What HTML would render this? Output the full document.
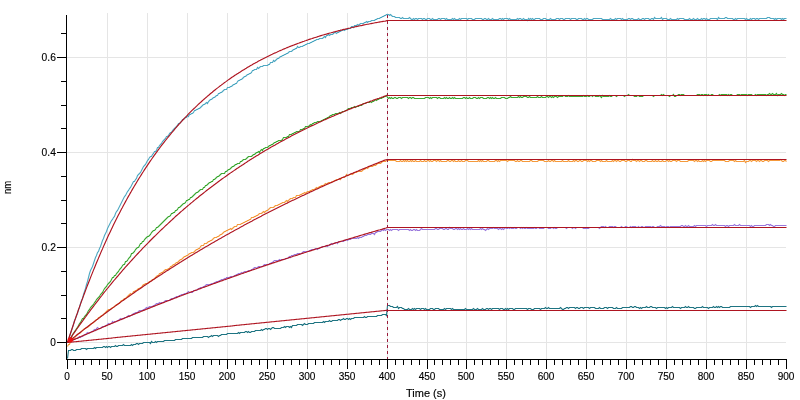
<!DOCTYPE html>
<html><head><meta charset="utf-8"><title>Kinetics</title>
<style>html,body{margin:0;padding:0;background:#fff;}body{width:800px;height:400px;overflow:hidden;}svg{display:block;}</style>
</head><body>
<svg width="800" height="400" viewBox="0 0 800 400">
<g shape-rendering="crispEdges"><rect x="107" y="13" width="1" height="346" fill="#e5e5e5"/><rect x="147" y="13" width="1" height="346" fill="#e5e5e5"/><rect x="187" y="13" width="1" height="346" fill="#e5e5e5"/><rect x="227" y="13" width="1" height="346" fill="#e5e5e5"/><rect x="267" y="13" width="1" height="346" fill="#e5e5e5"/><rect x="307" y="13" width="1" height="346" fill="#e5e5e5"/><rect x="347" y="13" width="1" height="346" fill="#e5e5e5"/><rect x="387" y="13" width="1" height="346" fill="#e5e5e5"/><rect x="427" y="13" width="1" height="346" fill="#e5e5e5"/><rect x="466" y="13" width="1" height="346" fill="#e5e5e5"/><rect x="506" y="13" width="1" height="346" fill="#e5e5e5"/><rect x="546" y="13" width="1" height="346" fill="#e5e5e5"/><rect x="586" y="13" width="1" height="346" fill="#e5e5e5"/><rect x="626" y="13" width="1" height="346" fill="#e5e5e5"/><rect x="666" y="13" width="1" height="346" fill="#e5e5e5"/><rect x="706" y="13" width="1" height="346" fill="#e5e5e5"/><rect x="746" y="13" width="1" height="346" fill="#e5e5e5"/><rect x="67" y="342" width="719" height="1" fill="#e5e5e5"/><rect x="67" y="247" width="719" height="1" fill="#e5e5e5"/><rect x="67" y="152" width="719" height="1" fill="#e5e5e5"/><rect x="67" y="57" width="719" height="1" fill="#e5e5e5"/></g>
<polyline fill="none" stroke="#4ea8c2" stroke-width="1.1"  points="67.5,342.5 68.5,340.5 69.5,336.5 70.5,333.5 71.5,330.5 72.5,327.5 73.5,324.5 74.5,320.5 75.5,318.5 76.5,315.5 77.5,313.5 78.5,309.5 79.5,307.5 80.5,303.5 81.5,300.5 82.5,298.5 83.5,294.5 84.5,291.5 85.5,288.5 86.5,284.5 87.5,281.5 88.5,277.5 89.5,273.5 90.5,270.5 91.5,268.5 92.5,266.5 93.5,263.5 94.5,260.5 95.5,257.5 96.5,255.5 97.5,252.5 98.5,251.5 99.5,248.5 100.5,246.5 101.5,243.5 102.5,240.5 103.5,238.5 104.5,235.5 105.5,233.5 106.5,231.5 107.5,228.5 108.5,226.5 109.5,224.5 110.5,222.5 111.5,220.5 112.5,219.5 113.5,217.5 114.5,216.5 115.5,213.5 116.5,211.5 117.5,210.5 118.5,208.5 119.5,206.5 120.5,204.5 121.5,202.5 122.5,200.5 123.5,198.5 124.5,196.5 125.5,195.5 126.5,193.5 127.5,191.5 128.5,190.5 129.5,188.5 130.5,187.5 131.5,185.5 132.5,183.5 133.5,181.5 134.5,181.5 135.5,179.5 136.5,178.5 137.5,175.5 138.5,174.5 139.5,173.5 140.5,172.5 141.5,170.5 142.5,168.5 143.5,166.5 144.5,165.5 145.5,164.5 146.5,162.5 147.5,160.5 148.5,159.5 149.5,157.5 150.5,156.5 151.5,156.5 152.5,154.5 153.5,153.5 154.5,151.5 155.5,151.5 156.5,150.5 157.5,147.5 158.5,147.5 159.5,145.5 160.5,144.5 161.5,143.5 162.5,141.5 163.5,140.5 164.5,139.5 165.5,138.5 166.5,136.5 167.5,136.5 168.5,135.5 169.5,133.5 170.5,132.5 171.5,132.5 172.5,130.5 173.5,129.5 174.5,128.5 175.5,127.5 176.5,126.5 177.5,125.5 178.5,123.5 179.5,123.5 180.5,122.5 181.5,121.5 182.5,119.5 183.5,119.5 184.5,118.5 185.5,117.5 186.5,117.5 187.5,115.5 188.5,116.5 189.5,114.5 190.5,114.5 191.5,113.5 192.5,113.5 193.5,112.5 194.5,110.5 195.5,110.5 196.5,109.5 197.5,109.5 198.5,108.5 199.5,108.5 200.5,107.5 201.5,106.5 202.5,105.5 203.5,104.5 204.5,104.5 205.5,103.5 206.5,102.5 207.5,103.5 208.5,101.5 209.5,100.5 210.5,99.5 211.5,99.5 212.5,98.5 213.5,97.5 214.5,97.5 215.5,96.5 216.5,95.5 217.5,95.5 218.5,93.5 219.5,93.5 220.5,92.5 221.5,92.5 222.5,91.5 223.5,90.5 224.5,89.5 225.5,89.5 226.5,89.5 227.5,87.5 228.5,87.5 229.5,87.5 230.5,86.5 231.5,86.5 232.5,85.5 233.5,84.5 234.5,84.5 235.5,83.5 236.5,83.5 237.5,81.5 238.5,80.5 239.5,80.5 240.5,79.5 241.5,79.5 242.5,78.5 243.5,77.5 244.5,76.5 245.5,76.5 246.5,75.5 247.5,74.5 248.5,74.5 249.5,73.5 250.5,73.5 251.5,72.5 252.5,70.5 253.5,70.5 254.5,69.5 255.5,69.5 256.5,69.5 257.5,67.5 258.5,68.5 259.5,67.5 260.5,66.5 261.5,66.5 262.5,66.5 263.5,65.5 264.5,65.5 265.5,65.5 266.5,65.5 267.5,65.5 268.5,64.5 269.5,64.5 270.5,62.5 271.5,62.5 272.5,62.5 273.5,60.5 274.5,61.5 275.5,60.5 276.5,59.5 277.5,58.5 278.5,58.5 279.5,57.5 280.5,56.5 281.5,56.5 282.5,55.5 283.5,55.5 284.5,54.5 285.5,54.5 286.5,53.5 287.5,53.5 288.5,52.5 289.5,51.5 290.5,51.5 291.5,51.5 292.5,50.5 293.5,49.5 294.5,49.5 295.5,48.5 296.5,48.5 297.5,46.5 298.5,47.5 299.5,47.5 300.5,46.5 301.5,46.5 302.5,46.5 303.5,45.5 304.5,45.5 305.5,44.5 306.5,44.5 307.5,43.5 308.5,43.5 309.5,43.5 310.5,42.5 311.5,42.5 312.5,41.5 313.5,41.5 314.5,40.5 315.5,40.5 316.5,39.5 317.5,39.5 318.5,39.5 319.5,38.5 320.5,38.5 321.5,38.5 322.5,38.5 323.5,37.5 324.5,36.5 325.5,37.5 326.5,35.5 327.5,35.5 328.5,34.5 329.5,35.5 330.5,34.5 331.5,34.5 332.5,34.5 333.5,33.5 334.5,32.5 335.5,32.5 336.5,33.5 337.5,32.5 338.5,32.5 339.5,31.5 340.5,31.5 341.5,30.5 342.5,30.5 343.5,29.5 344.5,30.5 345.5,29.5 346.5,29.5 347.5,29.5 348.5,28.5 349.5,28.5 350.5,28.5 351.5,26.5 352.5,26.5 353.5,27.5 354.5,25.5 355.5,25.5 356.5,25.5 357.5,24.5 358.5,25.5 359.5,24.5 360.5,23.5 361.5,23.5 362.5,23.5 363.5,23.5 364.5,22.5 365.5,22.5 366.5,21.5 367.5,22.5 368.5,21.5 369.5,21.5 370.5,21.5 371.5,20.5 372.5,20.5 373.5,20.5 374.5,20.5 375.5,19.5 376.5,19.5 377.5,18.5 378.5,18.5 379.5,18.5 380.5,17.5 381.5,17.5 382.5,16.5 383.5,16.5 384.5,15.5 385.5,15.5 386.5,14.5 387.5,14.5 388.5,14.5 389.5,15.5 390.5,14.5 391.5,15.5 392.5,16.5 393.5,16.5 394.5,16.5 395.5,17.5 396.5,17.5 397.5,17.5 398.5,17.5 399.5,17.5 400.5,18.5 401.5,18.5 402.5,17.5 403.5,18.5 404.5,18.5 405.5,18.5 406.5,18.5 407.5,18.5 408.5,18.5 409.5,17.5 410.5,18.5 411.5,19.5 412.5,19.5 413.5,18.5 414.5,19.5 415.5,18.5 416.5,18.5 417.5,19.5 418.5,18.5 419.5,18.5 420.5,18.5 421.5,18.5 422.5,19.5 423.5,18.5 424.5,18.5 425.5,19.5 426.5,19.5 427.5,18.5 428.5,18.5 429.5,18.5 430.5,19.5 431.5,19.5 432.5,18.5 433.5,19.5 434.5,19.5 435.5,19.5 436.5,19.5 437.5,19.5 438.5,18.5 439.5,18.5 440.5,19.5 441.5,18.5 442.5,18.5 443.5,18.5 444.5,18.5 445.5,19.5 446.5,18.5 447.5,19.5 448.5,19.5 449.5,19.5 450.5,19.5 451.5,19.5 452.5,18.5 453.5,19.5 454.5,18.5 455.5,19.5 456.5,19.5 457.5,19.5 458.5,19.5 459.5,18.5 460.5,19.5 461.5,18.5 462.5,18.5 463.5,18.5 464.5,18.5 465.5,18.5 466.5,18.5 467.5,19.5 468.5,18.5 469.5,18.5 470.5,18.5 471.5,18.5 472.5,19.5 473.5,19.5 474.5,19.5 475.5,18.5 476.5,18.5 477.5,18.5 478.5,18.5 479.5,18.5 480.5,18.5 481.5,18.5 482.5,19.5 483.5,19.5 484.5,18.5 485.5,18.5 486.5,19.5 487.5,19.5 488.5,18.5 489.5,19.5 490.5,19.5 491.5,19.5 492.5,18.5 493.5,19.5 494.5,19.5 495.5,19.5 496.5,19.5 497.5,19.5 498.5,19.5 499.5,18.5 500.5,18.5 501.5,19.5 502.5,18.5 503.5,19.5 504.5,18.5 505.5,18.5 506.5,18.5 507.5,18.5 508.5,19.5 509.5,18.5 510.5,19.5 511.5,19.5 512.5,19.5 513.5,19.5 514.5,19.5 515.5,19.5 516.5,19.5 517.5,18.5 518.5,19.5 519.5,18.5 520.5,18.5 521.5,19.5 522.5,19.5 523.5,18.5 524.5,19.5 525.5,19.5 526.5,19.5 527.5,20.5 528.5,18.5 529.5,19.5 530.5,18.5 531.5,19.5 532.5,18.5 533.5,19.5 534.5,19.5 535.5,18.5 536.5,18.5 537.5,18.5 538.5,18.5 539.5,18.5 540.5,19.5 541.5,19.5 542.5,19.5 543.5,18.5 544.5,18.5 545.5,18.5 546.5,19.5 547.5,19.5 548.5,19.5 549.5,19.5 550.5,18.5 551.5,19.5 552.5,19.5 553.5,19.5 554.5,19.5 555.5,19.5 556.5,18.5 557.5,18.5 558.5,18.5 559.5,19.5 560.5,18.5 561.5,18.5 562.5,18.5 563.5,19.5 564.5,19.5 565.5,18.5 566.5,18.5 567.5,18.5 568.5,18.5 569.5,18.5 570.5,19.5 571.5,18.5 572.5,18.5 573.5,18.5 574.5,18.5 575.5,18.5 576.5,19.5 577.5,19.5 578.5,18.5 579.5,18.5 580.5,18.5 581.5,18.5 582.5,19.5 583.5,19.5 584.5,18.5 585.5,19.5 586.5,18.5 587.5,18.5 588.5,19.5 589.5,19.5 590.5,19.5 591.5,19.5 592.5,19.5 593.5,18.5 594.5,18.5 595.5,18.5 596.5,18.5 597.5,18.5 598.5,18.5 599.5,18.5 600.5,18.5 601.5,18.5 602.5,19.5 603.5,19.5 604.5,19.5 605.5,19.5 606.5,19.5 607.5,19.5 608.5,19.5 609.5,19.5 610.5,18.5 611.5,19.5 612.5,19.5 613.5,19.5 614.5,19.5 615.5,18.5 616.5,19.5 617.5,18.5 618.5,18.5 619.5,18.5 620.5,18.5 621.5,19.5 622.5,18.5 623.5,19.5 624.5,19.5 625.5,19.5 626.5,19.5 627.5,19.5 628.5,18.5 629.5,18.5 630.5,19.5 631.5,18.5 632.5,18.5 633.5,19.5 634.5,19.5 635.5,19.5 636.5,19.5 637.5,19.5 638.5,18.5 639.5,19.5 640.5,19.5 641.5,19.5 642.5,18.5 643.5,18.5 644.5,19.5 645.5,18.5 646.5,18.5 647.5,18.5 648.5,18.5 649.5,19.5 650.5,19.5 651.5,18.5 652.5,18.5 653.5,19.5 654.5,17.5 655.5,18.5 656.5,18.5 657.5,18.5 658.5,18.5 659.5,18.5 660.5,18.5 661.5,17.5 662.5,19.5 663.5,18.5 664.5,18.5 665.5,18.5 666.5,18.5 667.5,19.5 668.5,19.5 669.5,19.5 670.5,18.5 671.5,19.5 672.5,19.5 673.5,19.5 674.5,19.5 675.5,19.5 676.5,19.5 677.5,18.5 678.5,19.5 679.5,18.5 680.5,18.5 681.5,18.5 682.5,18.5 683.5,18.5 684.5,19.5 685.5,19.5 686.5,19.5 687.5,19.5 688.5,19.5 689.5,18.5 690.5,19.5 691.5,19.5 692.5,19.5 693.5,18.5 694.5,19.5 695.5,19.5 696.5,19.5 697.5,18.5 698.5,19.5 699.5,19.5 700.5,19.5 701.5,18.5 702.5,19.5 703.5,18.5 704.5,18.5 705.5,19.5 706.5,18.5 707.5,19.5 708.5,19.5 709.5,19.5 710.5,18.5 711.5,18.5 712.5,18.5 713.5,18.5 714.5,18.5 715.5,18.5 716.5,18.5 717.5,19.5 718.5,17.5 719.5,18.5 720.5,18.5 721.5,18.5 722.5,18.5 723.5,18.5 724.5,18.5 725.5,17.5 726.5,17.5 727.5,18.5 728.5,18.5 729.5,18.5 730.5,18.5 731.5,18.5 732.5,18.5 733.5,19.5 734.5,19.5 735.5,18.5 736.5,19.5 737.5,18.5 738.5,18.5 739.5,18.5 740.5,18.5 741.5,18.5 742.5,18.5 743.5,18.5 744.5,18.5 745.5,19.5 746.5,18.5 747.5,19.5 748.5,19.5 749.5,19.5 750.5,18.5 751.5,19.5 752.5,18.5 753.5,18.5 754.5,18.5 755.5,19.5 756.5,18.5 757.5,18.5 758.5,19.5 759.5,18.5 760.5,18.5 761.5,18.5 762.5,18.5 763.5,18.5 764.5,18.5 765.5,18.5 766.5,18.5 767.5,17.5 768.5,17.5 769.5,17.5 770.5,18.5 771.5,18.5 772.5,18.5 773.5,18.5 774.5,19.5 775.5,18.5 776.5,19.5 777.5,18.5 778.5,18.5 779.5,18.5 780.5,18.5 781.5,19.5 782.5,18.5 783.5,19.5 784.5,18.5 785.5,18.5 786.5,18.5"/>
<polyline fill="none" stroke="#3ca832" stroke-width="1.1"  points="67.5,342.5 68.5,341.5 69.5,339.5 70.5,338.5 71.5,337.5 72.5,334.5 73.5,333.5 74.5,331.5 75.5,330.5 76.5,328.5 77.5,327.5 78.5,325.5 79.5,323.5 80.5,322.5 81.5,320.5 82.5,318.5 83.5,318.5 84.5,316.5 85.5,315.5 86.5,314.5 87.5,312.5 88.5,310.5 89.5,309.5 90.5,307.5 91.5,306.5 92.5,305.5 93.5,304.5 94.5,302.5 95.5,301.5 96.5,299.5 97.5,298.5 98.5,297.5 99.5,296.5 100.5,294.5 101.5,293.5 102.5,292.5 103.5,290.5 104.5,288.5 105.5,287.5 106.5,286.5 107.5,284.5 108.5,283.5 109.5,282.5 110.5,281.5 111.5,279.5 112.5,277.5 113.5,277.5 114.5,275.5 115.5,275.5 116.5,273.5 117.5,272.5 118.5,271.5 119.5,269.5 120.5,268.5 121.5,267.5 122.5,265.5 123.5,264.5 124.5,264.5 125.5,261.5 126.5,261.5 127.5,260.5 128.5,258.5 129.5,257.5 130.5,256.5 131.5,253.5 132.5,253.5 133.5,252.5 134.5,251.5 135.5,249.5 136.5,248.5 137.5,247.5 138.5,247.5 139.5,245.5 140.5,243.5 141.5,243.5 142.5,241.5 143.5,241.5 144.5,239.5 145.5,238.5 146.5,237.5 147.5,236.5 148.5,236.5 149.5,235.5 150.5,234.5 151.5,232.5 152.5,231.5 153.5,230.5 154.5,230.5 155.5,229.5 156.5,227.5 157.5,227.5 158.5,226.5 159.5,225.5 160.5,224.5 161.5,223.5 162.5,222.5 163.5,221.5 164.5,220.5 165.5,219.5 166.5,218.5 167.5,217.5 168.5,216.5 169.5,216.5 170.5,215.5 171.5,213.5 172.5,213.5 173.5,212.5 174.5,212.5 175.5,210.5 176.5,210.5 177.5,209.5 178.5,207.5 179.5,207.5 180.5,206.5 181.5,205.5 182.5,204.5 183.5,203.5 184.5,203.5 185.5,202.5 186.5,200.5 187.5,200.5 188.5,199.5 189.5,199.5 190.5,197.5 191.5,197.5 192.5,196.5 193.5,195.5 194.5,194.5 195.5,193.5 196.5,192.5 197.5,192.5 198.5,191.5 199.5,190.5 200.5,189.5 201.5,189.5 202.5,189.5 203.5,187.5 204.5,187.5 205.5,185.5 206.5,185.5 207.5,184.5 208.5,183.5 209.5,182.5 210.5,182.5 211.5,181.5 212.5,181.5 213.5,179.5 214.5,179.5 215.5,178.5 216.5,177.5 217.5,176.5 218.5,176.5 219.5,175.5 220.5,174.5 221.5,173.5 222.5,173.5 223.5,173.5 224.5,173.5 225.5,171.5 226.5,171.5 227.5,170.5 228.5,169.5 229.5,169.5 230.5,168.5 231.5,167.5 232.5,166.5 233.5,166.5 234.5,165.5 235.5,164.5 236.5,164.5 237.5,163.5 238.5,163.5 239.5,163.5 240.5,161.5 241.5,161.5 242.5,160.5 243.5,159.5 244.5,159.5 245.5,159.5 246.5,158.5 247.5,157.5 248.5,156.5 249.5,156.5 250.5,156.5 251.5,156.5 252.5,155.5 253.5,154.5 254.5,154.5 255.5,153.5 256.5,152.5 257.5,152.5 258.5,151.5 259.5,152.5 260.5,150.5 261.5,149.5 262.5,150.5 263.5,148.5 264.5,148.5 265.5,147.5 266.5,147.5 267.5,147.5 268.5,146.5 269.5,145.5 270.5,145.5 271.5,144.5 272.5,144.5 273.5,143.5 274.5,142.5 275.5,142.5 276.5,141.5 277.5,141.5 278.5,140.5 279.5,140.5 280.5,140.5 281.5,140.5 282.5,139.5 283.5,137.5 284.5,137.5 285.5,137.5 286.5,137.5 287.5,136.5 288.5,136.5 289.5,134.5 290.5,134.5 291.5,134.5 292.5,133.5 293.5,133.5 294.5,132.5 295.5,132.5 296.5,131.5 297.5,131.5 298.5,131.5 299.5,131.5 300.5,129.5 301.5,129.5 302.5,129.5 303.5,128.5 304.5,128.5 305.5,126.5 306.5,126.5 307.5,126.5 308.5,126.5 309.5,125.5 310.5,124.5 311.5,125.5 312.5,123.5 313.5,123.5 314.5,122.5 315.5,122.5 316.5,122.5 317.5,121.5 318.5,121.5 319.5,121.5 320.5,121.5 321.5,120.5 322.5,120.5 323.5,119.5 324.5,119.5 325.5,118.5 326.5,118.5 327.5,117.5 328.5,117.5 329.5,116.5 330.5,115.5 331.5,115.5 332.5,114.5 333.5,114.5 334.5,114.5 335.5,113.5 336.5,113.5 337.5,113.5 338.5,113.5 339.5,112.5 340.5,113.5 341.5,112.5 342.5,111.5 343.5,111.5 344.5,111.5 345.5,110.5 346.5,110.5 347.5,109.5 348.5,108.5 349.5,108.5 350.5,108.5 351.5,107.5 352.5,107.5 353.5,107.5 354.5,106.5 355.5,107.5 356.5,106.5 357.5,106.5 358.5,106.5 359.5,105.5 360.5,105.5 361.5,105.5 362.5,104.5 363.5,103.5 364.5,103.5 365.5,103.5 366.5,102.5 367.5,102.5 368.5,102.5 369.5,102.5 370.5,101.5 371.5,102.5 372.5,101.5 373.5,101.5 374.5,100.5 375.5,99.5 376.5,100.5 377.5,99.5 378.5,99.5 379.5,98.5 380.5,98.5 381.5,98.5 382.5,97.5 383.5,97.5 384.5,96.5 385.5,96.5 386.5,95.5 387.5,97.5 388.5,98.5 389.5,97.5 390.5,98.5 391.5,97.5 392.5,98.5 393.5,98.5 394.5,97.5 395.5,97.5 396.5,98.5 397.5,98.5 398.5,97.5 399.5,97.5 400.5,97.5 401.5,98.5 402.5,97.5 403.5,97.5 404.5,97.5 405.5,97.5 406.5,97.5 407.5,97.5 408.5,98.5 409.5,97.5 410.5,97.5 411.5,98.5 412.5,97.5 413.5,97.5 414.5,98.5 415.5,98.5 416.5,98.5 417.5,98.5 418.5,98.5 419.5,98.5 420.5,98.5 421.5,98.5 422.5,98.5 423.5,98.5 424.5,98.5 425.5,97.5 426.5,97.5 427.5,97.5 428.5,97.5 429.5,98.5 430.5,97.5 431.5,98.5 432.5,97.5 433.5,97.5 434.5,97.5 435.5,97.5 436.5,97.5 437.5,98.5 438.5,97.5 439.5,97.5 440.5,98.5 441.5,98.5 442.5,98.5 443.5,98.5 444.5,97.5 445.5,98.5 446.5,97.5 447.5,98.5 448.5,98.5 449.5,97.5 450.5,98.5 451.5,98.5 452.5,97.5 453.5,98.5 454.5,97.5 455.5,98.5 456.5,98.5 457.5,98.5 458.5,98.5 459.5,98.5 460.5,98.5 461.5,98.5 462.5,98.5 463.5,97.5 464.5,97.5 465.5,98.5 466.5,97.5 467.5,98.5 468.5,98.5 469.5,97.5 470.5,98.5 471.5,98.5 472.5,98.5 473.5,97.5 474.5,97.5 475.5,97.5 476.5,98.5 477.5,98.5 478.5,97.5 479.5,98.5 480.5,97.5 481.5,97.5 482.5,97.5 483.5,98.5 484.5,98.5 485.5,98.5 486.5,98.5 487.5,97.5 488.5,97.5 489.5,98.5 490.5,97.5 491.5,98.5 492.5,97.5 493.5,98.5 494.5,98.5 495.5,97.5 496.5,98.5 497.5,98.5 498.5,98.5 499.5,98.5 500.5,98.5 501.5,97.5 502.5,97.5 503.5,97.5 504.5,97.5 505.5,98.5 506.5,98.5 507.5,98.5 508.5,97.5 509.5,97.5 510.5,96.5 511.5,97.5 512.5,97.5 513.5,97.5 514.5,97.5 515.5,97.5 516.5,97.5 517.5,97.5 518.5,96.5 519.5,97.5 520.5,96.5 521.5,97.5 522.5,97.5 523.5,96.5 524.5,96.5 525.5,96.5 526.5,96.5 527.5,97.5 528.5,97.5 529.5,96.5 530.5,97.5 531.5,97.5 532.5,97.5 533.5,97.5 534.5,97.5 535.5,97.5 536.5,97.5 537.5,96.5 538.5,97.5 539.5,97.5 540.5,97.5 541.5,96.5 542.5,97.5 543.5,97.5 544.5,97.5 545.5,97.5 546.5,96.5 547.5,96.5 548.5,97.5 549.5,96.5 550.5,96.5 551.5,97.5 552.5,96.5 553.5,97.5 554.5,96.5 555.5,96.5 556.5,96.5 557.5,97.5 558.5,96.5 559.5,96.5 560.5,96.5 561.5,96.5 562.5,96.5 563.5,95.5 564.5,95.5 565.5,96.5 566.5,96.5 567.5,96.5 568.5,95.5 569.5,96.5 570.5,96.5 571.5,96.5 572.5,96.5 573.5,96.5 574.5,96.5 575.5,96.5 576.5,96.5 577.5,96.5 578.5,96.5 579.5,96.5 580.5,96.5 581.5,96.5 582.5,96.5 583.5,95.5 584.5,96.5 585.5,96.5 586.5,96.5 587.5,95.5 588.5,96.5 589.5,96.5 590.5,95.5 591.5,95.5 592.5,96.5 593.5,95.5 594.5,95.5 595.5,96.5 596.5,96.5 597.5,96.5 598.5,96.5 599.5,95.5 600.5,96.5 601.5,97.5 602.5,95.5 603.5,96.5 604.5,96.5 605.5,96.5 606.5,96.5 607.5,96.5 608.5,96.5 609.5,95.5 610.5,96.5 611.5,96.5 612.5,95.5 613.5,95.5 614.5,95.5 615.5,95.5 616.5,96.5 617.5,95.5 618.5,95.5 619.5,95.5 620.5,95.5 621.5,95.5 622.5,95.5 623.5,95.5 624.5,96.5 625.5,95.5 626.5,95.5 627.5,95.5 628.5,94.5 629.5,95.5 630.5,95.5 631.5,95.5 632.5,95.5 633.5,95.5 634.5,96.5 635.5,96.5 636.5,96.5 637.5,95.5 638.5,95.5 639.5,96.5 640.5,96.5 641.5,96.5 642.5,96.5 643.5,95.5 644.5,95.5 645.5,95.5 646.5,95.5 647.5,95.5 648.5,95.5 649.5,95.5 650.5,95.5 651.5,95.5 652.5,95.5 653.5,96.5 654.5,95.5 655.5,95.5 656.5,95.5 657.5,95.5 658.5,95.5 659.5,95.5 660.5,95.5 661.5,94.5 662.5,95.5 663.5,94.5 664.5,95.5 665.5,95.5 666.5,95.5 667.5,95.5 668.5,95.5 669.5,96.5 670.5,95.5 671.5,95.5 672.5,95.5 673.5,94.5 674.5,96.5 675.5,96.5 676.5,95.5 677.5,95.5 678.5,94.5 679.5,94.5 680.5,95.5 681.5,94.5 682.5,94.5 683.5,94.5 684.5,95.5 685.5,95.5 686.5,95.5 687.5,95.5 688.5,95.5 689.5,95.5 690.5,95.5 691.5,95.5 692.5,95.5 693.5,95.5 694.5,95.5 695.5,95.5 696.5,95.5 697.5,94.5 698.5,94.5 699.5,94.5 700.5,95.5 701.5,94.5 702.5,94.5 703.5,95.5 704.5,94.5 705.5,94.5 706.5,94.5 707.5,95.5 708.5,94.5 709.5,95.5 710.5,95.5 711.5,94.5 712.5,94.5 713.5,95.5 714.5,95.5 715.5,95.5 716.5,95.5 717.5,95.5 718.5,95.5 719.5,94.5 720.5,95.5 721.5,94.5 722.5,94.5 723.5,94.5 724.5,94.5 725.5,94.5 726.5,94.5 727.5,95.5 728.5,94.5 729.5,95.5 730.5,94.5 731.5,94.5 732.5,95.5 733.5,95.5 734.5,95.5 735.5,95.5 736.5,95.5 737.5,94.5 738.5,94.5 739.5,94.5 740.5,95.5 741.5,94.5 742.5,94.5 743.5,94.5 744.5,94.5 745.5,94.5 746.5,94.5 747.5,95.5 748.5,94.5 749.5,94.5 750.5,94.5 751.5,94.5 752.5,95.5 753.5,95.5 754.5,95.5 755.5,94.5 756.5,95.5 757.5,94.5 758.5,94.5 759.5,94.5 760.5,94.5 761.5,94.5 762.5,94.5 763.5,94.5 764.5,94.5 765.5,94.5 766.5,95.5 767.5,94.5 768.5,94.5 769.5,93.5 770.5,94.5 771.5,94.5 772.5,93.5 773.5,94.5 774.5,94.5 775.5,94.5 776.5,93.5 777.5,95.5 778.5,94.5 779.5,94.5 780.5,94.5 781.5,93.5 782.5,94.5 783.5,94.5 784.5,95.5 785.5,94.5 786.5,94.5"/>
<polyline fill="none" stroke="#f59a3c" stroke-width="1.1"  points="67.5,346.5 68.5,344.5 69.5,344.5 70.5,341.5 71.5,341.5 72.5,339.5 73.5,338.5 74.5,338.5 75.5,336.5 76.5,335.5 77.5,334.5 78.5,333.5 79.5,333.5 80.5,332.5 81.5,331.5 82.5,330.5 83.5,329.5 84.5,328.5 85.5,328.5 86.5,327.5 87.5,327.5 88.5,326.5 89.5,325.5 90.5,324.5 91.5,323.5 92.5,323.5 93.5,322.5 94.5,321.5 95.5,320.5 96.5,319.5 97.5,319.5 98.5,317.5 99.5,317.5 100.5,316.5 101.5,315.5 102.5,315.5 103.5,314.5 104.5,313.5 105.5,312.5 106.5,311.5 107.5,310.5 108.5,309.5 109.5,309.5 110.5,309.5 111.5,308.5 112.5,307.5 113.5,307.5 114.5,306.5 115.5,305.5 116.5,304.5 117.5,304.5 118.5,303.5 119.5,303.5 120.5,301.5 121.5,300.5 122.5,300.5 123.5,299.5 124.5,298.5 125.5,298.5 126.5,297.5 127.5,296.5 128.5,295.5 129.5,294.5 130.5,293.5 131.5,294.5 132.5,293.5 133.5,291.5 134.5,291.5 135.5,290.5 136.5,290.5 137.5,289.5 138.5,288.5 139.5,288.5 140.5,287.5 141.5,287.5 142.5,285.5 143.5,284.5 144.5,284.5 145.5,283.5 146.5,283.5 147.5,283.5 148.5,282.5 149.5,281.5 150.5,281.5 151.5,280.5 152.5,279.5 153.5,279.5 154.5,278.5 155.5,277.5 156.5,276.5 157.5,275.5 158.5,275.5 159.5,273.5 160.5,273.5 161.5,272.5 162.5,272.5 163.5,271.5 164.5,270.5 165.5,269.5 166.5,269.5 167.5,269.5 168.5,268.5 169.5,268.5 170.5,266.5 171.5,266.5 172.5,265.5 173.5,264.5 174.5,264.5 175.5,263.5 176.5,262.5 177.5,262.5 178.5,261.5 179.5,260.5 180.5,259.5 181.5,259.5 182.5,258.5 183.5,257.5 184.5,256.5 185.5,256.5 186.5,255.5 187.5,255.5 188.5,254.5 189.5,253.5 190.5,253.5 191.5,252.5 192.5,252.5 193.5,252.5 194.5,251.5 195.5,250.5 196.5,249.5 197.5,249.5 198.5,248.5 199.5,248.5 200.5,246.5 201.5,245.5 202.5,245.5 203.5,245.5 204.5,243.5 205.5,243.5 206.5,243.5 207.5,242.5 208.5,241.5 209.5,241.5 210.5,240.5 211.5,240.5 212.5,239.5 213.5,238.5 214.5,237.5 215.5,237.5 216.5,237.5 217.5,236.5 218.5,236.5 219.5,235.5 220.5,234.5 221.5,234.5 222.5,233.5 223.5,232.5 224.5,231.5 225.5,231.5 226.5,230.5 227.5,230.5 228.5,229.5 229.5,229.5 230.5,228.5 231.5,229.5 232.5,228.5 233.5,227.5 234.5,226.5 235.5,226.5 236.5,226.5 237.5,224.5 238.5,224.5 239.5,224.5 240.5,224.5 241.5,223.5 242.5,223.5 243.5,222.5 244.5,222.5 245.5,221.5 246.5,221.5 247.5,220.5 248.5,220.5 249.5,219.5 250.5,219.5 251.5,217.5 252.5,217.5 253.5,217.5 254.5,216.5 255.5,216.5 256.5,215.5 257.5,215.5 258.5,214.5 259.5,213.5 260.5,213.5 261.5,213.5 262.5,212.5 263.5,211.5 264.5,212.5 265.5,211.5 266.5,210.5 267.5,210.5 268.5,209.5 269.5,208.5 270.5,207.5 271.5,207.5 272.5,207.5 273.5,207.5 274.5,206.5 275.5,205.5 276.5,205.5 277.5,205.5 278.5,204.5 279.5,204.5 280.5,203.5 281.5,203.5 282.5,202.5 283.5,202.5 284.5,202.5 285.5,201.5 286.5,200.5 287.5,201.5 288.5,200.5 289.5,199.5 290.5,198.5 291.5,198.5 292.5,198.5 293.5,197.5 294.5,197.5 295.5,197.5 296.5,195.5 297.5,195.5 298.5,195.5 299.5,195.5 300.5,194.5 301.5,194.5 302.5,193.5 303.5,193.5 304.5,192.5 305.5,193.5 306.5,192.5 307.5,191.5 308.5,191.5 309.5,191.5 310.5,190.5 311.5,190.5 312.5,189.5 313.5,189.5 314.5,189.5 315.5,188.5 316.5,187.5 317.5,188.5 318.5,187.5 319.5,186.5 320.5,186.5 321.5,185.5 322.5,185.5 323.5,185.5 324.5,184.5 325.5,183.5 326.5,184.5 327.5,183.5 328.5,182.5 329.5,182.5 330.5,182.5 331.5,182.5 332.5,181.5 333.5,181.5 334.5,180.5 335.5,180.5 336.5,179.5 337.5,179.5 338.5,179.5 339.5,178.5 340.5,179.5 341.5,177.5 342.5,177.5 343.5,177.5 344.5,177.5 345.5,176.5 346.5,174.5 347.5,175.5 348.5,175.5 349.5,174.5 350.5,174.5 351.5,173.5 352.5,174.5 353.5,173.5 354.5,172.5 355.5,172.5 356.5,172.5 357.5,171.5 358.5,171.5 359.5,171.5 360.5,171.5 361.5,171.5 362.5,170.5 363.5,169.5 364.5,169.5 365.5,168.5 366.5,167.5 367.5,168.5 368.5,167.5 369.5,166.5 370.5,166.5 371.5,166.5 372.5,166.5 373.5,165.5 374.5,165.5 375.5,165.5 376.5,164.5 377.5,163.5 378.5,163.5 379.5,163.5 380.5,163.5 381.5,162.5 382.5,161.5 383.5,161.5 384.5,161.5 385.5,161.5 386.5,160.5 387.5,160.5 388.5,160.5 389.5,160.5 390.5,160.5 391.5,160.5 392.5,160.5 393.5,160.5 394.5,160.5 395.5,160.5 396.5,161.5 397.5,161.5 398.5,161.5 399.5,161.5 400.5,160.5 401.5,161.5 402.5,161.5 403.5,160.5 404.5,161.5 405.5,160.5 406.5,161.5 407.5,160.5 408.5,161.5 409.5,161.5 410.5,160.5 411.5,161.5 412.5,160.5 413.5,161.5 414.5,161.5 415.5,160.5 416.5,161.5 417.5,161.5 418.5,161.5 419.5,161.5 420.5,160.5 421.5,161.5 422.5,161.5 423.5,161.5 424.5,160.5 425.5,161.5 426.5,161.5 427.5,160.5 428.5,160.5 429.5,161.5 430.5,160.5 431.5,161.5 432.5,161.5 433.5,160.5 434.5,160.5 435.5,160.5 436.5,161.5 437.5,160.5 438.5,160.5 439.5,161.5 440.5,160.5 441.5,161.5 442.5,161.5 443.5,161.5 444.5,161.5 445.5,161.5 446.5,161.5 447.5,160.5 448.5,160.5 449.5,161.5 450.5,161.5 451.5,160.5 452.5,160.5 453.5,161.5 454.5,160.5 455.5,161.5 456.5,161.5 457.5,161.5 458.5,160.5 459.5,161.5 460.5,161.5 461.5,160.5 462.5,161.5 463.5,161.5 464.5,161.5 465.5,160.5 466.5,160.5 467.5,160.5 468.5,161.5 469.5,161.5 470.5,161.5 471.5,161.5 472.5,161.5 473.5,161.5 474.5,161.5 475.5,161.5 476.5,161.5 477.5,161.5 478.5,160.5 479.5,161.5 480.5,160.5 481.5,161.5 482.5,160.5 483.5,161.5 484.5,161.5 485.5,161.5 486.5,161.5 487.5,160.5 488.5,160.5 489.5,161.5 490.5,161.5 491.5,161.5 492.5,161.5 493.5,161.5 494.5,161.5 495.5,160.5 496.5,160.5 497.5,161.5 498.5,160.5 499.5,161.5 500.5,160.5 501.5,160.5 502.5,160.5 503.5,160.5 504.5,160.5 505.5,160.5 506.5,160.5 507.5,161.5 508.5,160.5 509.5,160.5 510.5,160.5 511.5,160.5 512.5,160.5 513.5,160.5 514.5,160.5 515.5,161.5 516.5,161.5 517.5,160.5 518.5,161.5 519.5,161.5 520.5,160.5 521.5,160.5 522.5,161.5 523.5,161.5 524.5,161.5 525.5,161.5 526.5,161.5 527.5,161.5 528.5,161.5 529.5,161.5 530.5,160.5 531.5,160.5 532.5,161.5 533.5,161.5 534.5,161.5 535.5,161.5 536.5,161.5 537.5,161.5 538.5,160.5 539.5,160.5 540.5,160.5 541.5,160.5 542.5,160.5 543.5,160.5 544.5,161.5 545.5,161.5 546.5,161.5 547.5,161.5 548.5,160.5 549.5,161.5 550.5,161.5 551.5,160.5 552.5,160.5 553.5,161.5 554.5,160.5 555.5,161.5 556.5,161.5 557.5,161.5 558.5,161.5 559.5,161.5 560.5,161.5 561.5,161.5 562.5,160.5 563.5,161.5 564.5,161.5 565.5,161.5 566.5,161.5 567.5,161.5 568.5,160.5 569.5,161.5 570.5,161.5 571.5,161.5 572.5,161.5 573.5,160.5 574.5,161.5 575.5,160.5 576.5,160.5 577.5,161.5 578.5,161.5 579.5,160.5 580.5,160.5 581.5,161.5 582.5,161.5 583.5,160.5 584.5,160.5 585.5,160.5 586.5,160.5 587.5,161.5 588.5,160.5 589.5,161.5 590.5,160.5 591.5,160.5 592.5,161.5 593.5,161.5 594.5,161.5 595.5,161.5 596.5,160.5 597.5,160.5 598.5,160.5 599.5,160.5 600.5,161.5 601.5,160.5 602.5,161.5 603.5,161.5 604.5,161.5 605.5,161.5 606.5,160.5 607.5,161.5 608.5,161.5 609.5,161.5 610.5,161.5 611.5,161.5 612.5,160.5 613.5,161.5 614.5,160.5 615.5,160.5 616.5,161.5 617.5,160.5 618.5,160.5 619.5,161.5 620.5,161.5 621.5,160.5 622.5,160.5 623.5,160.5 624.5,160.5 625.5,161.5 626.5,161.5 627.5,160.5 628.5,160.5 629.5,160.5 630.5,161.5 631.5,161.5 632.5,159.5 633.5,160.5 634.5,160.5 635.5,160.5 636.5,161.5 637.5,160.5 638.5,160.5 639.5,161.5 640.5,160.5 641.5,160.5 642.5,161.5 643.5,161.5 644.5,161.5 645.5,160.5 646.5,160.5 647.5,161.5 648.5,161.5 649.5,161.5 650.5,161.5 651.5,161.5 652.5,160.5 653.5,161.5 654.5,161.5 655.5,160.5 656.5,161.5 657.5,161.5 658.5,160.5 659.5,161.5 660.5,161.5 661.5,161.5 662.5,160.5 663.5,161.5 664.5,161.5 665.5,161.5 666.5,160.5 667.5,160.5 668.5,161.5 669.5,160.5 670.5,161.5 671.5,161.5 672.5,160.5 673.5,160.5 674.5,160.5 675.5,160.5 676.5,161.5 677.5,160.5 678.5,160.5 679.5,160.5 680.5,161.5 681.5,161.5 682.5,161.5 683.5,161.5 684.5,161.5 685.5,161.5 686.5,161.5 687.5,161.5 688.5,160.5 689.5,160.5 690.5,160.5 691.5,160.5 692.5,160.5 693.5,160.5 694.5,161.5 695.5,160.5 696.5,160.5 697.5,161.5 698.5,160.5 699.5,161.5 700.5,161.5 701.5,161.5 702.5,160.5 703.5,161.5 704.5,160.5 705.5,161.5 706.5,160.5 707.5,160.5 708.5,160.5 709.5,160.5 710.5,161.5 711.5,161.5 712.5,160.5 713.5,160.5 714.5,160.5 715.5,160.5 716.5,160.5 717.5,160.5 718.5,160.5 719.5,160.5 720.5,160.5 721.5,160.5 722.5,160.5 723.5,160.5 724.5,160.5 725.5,161.5 726.5,161.5 727.5,161.5 728.5,161.5 729.5,160.5 730.5,160.5 731.5,160.5 732.5,160.5 733.5,160.5 734.5,161.5 735.5,160.5 736.5,161.5 737.5,161.5 738.5,161.5 739.5,161.5 740.5,161.5 741.5,161.5 742.5,161.5 743.5,161.5 744.5,160.5 745.5,162.5 746.5,161.5 747.5,161.5 748.5,161.5 749.5,160.5 750.5,160.5 751.5,161.5 752.5,160.5 753.5,160.5 754.5,160.5 755.5,160.5 756.5,161.5 757.5,160.5 758.5,160.5 759.5,161.5 760.5,160.5 761.5,160.5 762.5,161.5 763.5,161.5 764.5,160.5 765.5,160.5 766.5,160.5 767.5,160.5 768.5,161.5 769.5,160.5 770.5,160.5 771.5,160.5 772.5,160.5 773.5,160.5 774.5,160.5 775.5,160.5 776.5,160.5 777.5,160.5 778.5,160.5 779.5,160.5 780.5,159.5 781.5,160.5 782.5,161.5 783.5,161.5 784.5,160.5 785.5,160.5 786.5,161.5"/>
<polyline fill="none" stroke="#9a78dc" stroke-width="1.1"  points="67.5,342.5 68.5,341.5 69.5,341.5 70.5,340.5 71.5,340.5 72.5,340.5 73.5,339.5 74.5,339.5 75.5,338.5 76.5,338.5 77.5,338.5 78.5,337.5 79.5,336.5 80.5,337.5 81.5,336.5 82.5,336.5 83.5,335.5 84.5,334.5 85.5,334.5 86.5,333.5 87.5,332.5 88.5,333.5 89.5,332.5 90.5,332.5 91.5,331.5 92.5,331.5 93.5,330.5 94.5,329.5 95.5,330.5 96.5,328.5 97.5,327.5 98.5,328.5 99.5,328.5 100.5,328.5 101.5,327.5 102.5,326.5 103.5,326.5 104.5,326.5 105.5,325.5 106.5,325.5 107.5,324.5 108.5,323.5 109.5,324.5 110.5,323.5 111.5,323.5 112.5,321.5 113.5,322.5 114.5,321.5 115.5,321.5 116.5,321.5 117.5,320.5 118.5,320.5 119.5,319.5 120.5,318.5 121.5,319.5 122.5,318.5 123.5,318.5 124.5,317.5 125.5,317.5 126.5,317.5 127.5,316.5 128.5,315.5 129.5,316.5 130.5,315.5 131.5,315.5 132.5,314.5 133.5,313.5 134.5,313.5 135.5,312.5 136.5,312.5 137.5,312.5 138.5,311.5 139.5,310.5 140.5,310.5 141.5,310.5 142.5,310.5 143.5,309.5 144.5,309.5 145.5,308.5 146.5,307.5 147.5,308.5 148.5,307.5 149.5,306.5 150.5,306.5 151.5,306.5 152.5,306.5 153.5,305.5 154.5,305.5 155.5,304.5 156.5,303.5 157.5,303.5 158.5,303.5 159.5,302.5 160.5,303.5 161.5,302.5 162.5,302.5 163.5,302.5 164.5,301.5 165.5,300.5 166.5,300.5 167.5,300.5 168.5,300.5 169.5,300.5 170.5,299.5 171.5,298.5 172.5,298.5 173.5,298.5 174.5,297.5 175.5,297.5 176.5,296.5 177.5,296.5 178.5,296.5 179.5,295.5 180.5,295.5 181.5,294.5 182.5,294.5 183.5,294.5 184.5,293.5 185.5,293.5 186.5,293.5 187.5,292.5 188.5,291.5 189.5,292.5 190.5,292.5 191.5,292.5 192.5,292.5 193.5,290.5 194.5,290.5 195.5,290.5 196.5,290.5 197.5,289.5 198.5,288.5 199.5,288.5 200.5,287.5 201.5,287.5 202.5,287.5 203.5,286.5 204.5,286.5 205.5,285.5 206.5,284.5 207.5,284.5 208.5,284.5 209.5,284.5 210.5,284.5 211.5,283.5 212.5,283.5 213.5,283.5 214.5,282.5 215.5,282.5 216.5,281.5 217.5,281.5 218.5,281.5 219.5,280.5 220.5,280.5 221.5,279.5 222.5,279.5 223.5,279.5 224.5,278.5 225.5,279.5 226.5,277.5 227.5,277.5 228.5,277.5 229.5,277.5 230.5,276.5 231.5,276.5 232.5,276.5 233.5,276.5 234.5,275.5 235.5,275.5 236.5,274.5 237.5,274.5 238.5,273.5 239.5,273.5 240.5,273.5 241.5,272.5 242.5,273.5 243.5,272.5 244.5,271.5 245.5,271.5 246.5,271.5 247.5,271.5 248.5,270.5 249.5,270.5 250.5,270.5 251.5,269.5 252.5,269.5 253.5,268.5 254.5,267.5 255.5,267.5 256.5,268.5 257.5,267.5 258.5,266.5 259.5,266.5 260.5,266.5 261.5,266.5 262.5,266.5 263.5,265.5 264.5,264.5 265.5,264.5 266.5,264.5 267.5,264.5 268.5,264.5 269.5,263.5 270.5,263.5 271.5,262.5 272.5,262.5 273.5,261.5 274.5,260.5 275.5,260.5 276.5,260.5 277.5,260.5 278.5,260.5 279.5,259.5 280.5,260.5 281.5,259.5 282.5,259.5 283.5,259.5 284.5,259.5 285.5,258.5 286.5,258.5 287.5,258.5 288.5,257.5 289.5,256.5 290.5,257.5 291.5,255.5 292.5,255.5 293.5,255.5 294.5,254.5 295.5,254.5 296.5,254.5 297.5,253.5 298.5,253.5 299.5,253.5 300.5,253.5 301.5,253.5 302.5,252.5 303.5,251.5 304.5,251.5 305.5,251.5 306.5,251.5 307.5,251.5 308.5,251.5 309.5,250.5 310.5,250.5 311.5,249.5 312.5,249.5 313.5,249.5 314.5,249.5 315.5,248.5 316.5,248.5 317.5,249.5 318.5,248.5 319.5,248.5 320.5,247.5 321.5,247.5 322.5,246.5 323.5,246.5 324.5,246.5 325.5,246.5 326.5,245.5 327.5,246.5 328.5,245.5 329.5,245.5 330.5,244.5 331.5,243.5 332.5,244.5 333.5,243.5 334.5,243.5 335.5,242.5 336.5,242.5 337.5,243.5 338.5,241.5 339.5,241.5 340.5,241.5 341.5,241.5 342.5,241.5 343.5,241.5 344.5,240.5 345.5,240.5 346.5,239.5 347.5,240.5 348.5,239.5 349.5,239.5 350.5,239.5 351.5,238.5 352.5,238.5 353.5,238.5 354.5,238.5 355.5,238.5 356.5,238.5 357.5,237.5 358.5,238.5 359.5,237.5 360.5,237.5 361.5,237.5 362.5,236.5 363.5,236.5 364.5,235.5 365.5,235.5 366.5,235.5 367.5,234.5 368.5,234.5 369.5,234.5 370.5,234.5 371.5,233.5 372.5,233.5 373.5,233.5 374.5,234.5 375.5,232.5 376.5,232.5 377.5,231.5 378.5,231.5 379.5,231.5 380.5,231.5 381.5,230.5 382.5,229.5 383.5,230.5 384.5,229.5 385.5,230.5 386.5,229.5 387.5,229.5 388.5,229.5 389.5,230.5 390.5,229.5 391.5,230.5 392.5,229.5 393.5,229.5 394.5,229.5 395.5,229.5 396.5,229.5 397.5,229.5 398.5,230.5 399.5,229.5 400.5,229.5 401.5,229.5 402.5,229.5 403.5,229.5 404.5,229.5 405.5,229.5 406.5,229.5 407.5,229.5 408.5,229.5 409.5,230.5 410.5,229.5 411.5,230.5 412.5,230.5 413.5,229.5 414.5,229.5 415.5,230.5 416.5,229.5 417.5,230.5 418.5,230.5 419.5,230.5 420.5,229.5 421.5,228.5 422.5,229.5 423.5,229.5 424.5,229.5 425.5,229.5 426.5,229.5 427.5,229.5 428.5,229.5 429.5,229.5 430.5,229.5 431.5,229.5 432.5,229.5 433.5,229.5 434.5,229.5 435.5,228.5 436.5,228.5 437.5,229.5 438.5,229.5 439.5,228.5 440.5,228.5 441.5,228.5 442.5,228.5 443.5,229.5 444.5,229.5 445.5,228.5 446.5,228.5 447.5,229.5 448.5,229.5 449.5,227.5 450.5,228.5 451.5,228.5 452.5,228.5 453.5,229.5 454.5,229.5 455.5,228.5 456.5,228.5 457.5,229.5 458.5,228.5 459.5,229.5 460.5,228.5 461.5,229.5 462.5,229.5 463.5,228.5 464.5,229.5 465.5,229.5 466.5,229.5 467.5,228.5 468.5,229.5 469.5,228.5 470.5,229.5 471.5,228.5 472.5,229.5 473.5,229.5 474.5,229.5 475.5,229.5 476.5,229.5 477.5,229.5 478.5,229.5 479.5,229.5 480.5,228.5 481.5,229.5 482.5,228.5 483.5,229.5 484.5,229.5 485.5,230.5 486.5,229.5 487.5,228.5 488.5,229.5 489.5,228.5 490.5,228.5 491.5,228.5 492.5,228.5 493.5,227.5 494.5,228.5 495.5,228.5 496.5,228.5 497.5,228.5 498.5,229.5 499.5,228.5 500.5,228.5 501.5,229.5 502.5,228.5 503.5,229.5 504.5,228.5 505.5,227.5 506.5,228.5 507.5,228.5 508.5,227.5 509.5,228.5 510.5,227.5 511.5,228.5 512.5,228.5 513.5,228.5 514.5,227.5 515.5,228.5 516.5,228.5 517.5,227.5 518.5,227.5 519.5,227.5 520.5,228.5 521.5,227.5 522.5,228.5 523.5,227.5 524.5,228.5 525.5,228.5 526.5,227.5 527.5,228.5 528.5,228.5 529.5,228.5 530.5,228.5 531.5,228.5 532.5,228.5 533.5,228.5 534.5,227.5 535.5,228.5 536.5,228.5 537.5,227.5 538.5,227.5 539.5,228.5 540.5,228.5 541.5,228.5 542.5,228.5 543.5,228.5 544.5,227.5 545.5,227.5 546.5,227.5 547.5,227.5 548.5,228.5 549.5,228.5 550.5,228.5 551.5,227.5 552.5,227.5 553.5,228.5 554.5,227.5 555.5,228.5 556.5,228.5 557.5,227.5 558.5,227.5 559.5,227.5 560.5,227.5 561.5,227.5 562.5,227.5 563.5,227.5 564.5,227.5 565.5,227.5 566.5,228.5 567.5,227.5 568.5,227.5 569.5,227.5 570.5,227.5 571.5,227.5 572.5,228.5 573.5,227.5 574.5,227.5 575.5,228.5 576.5,227.5 577.5,227.5 578.5,227.5 579.5,227.5 580.5,227.5 581.5,227.5 582.5,227.5 583.5,228.5 584.5,228.5 585.5,228.5 586.5,228.5 587.5,228.5 588.5,228.5 589.5,227.5 590.5,227.5 591.5,227.5 592.5,227.5 593.5,227.5 594.5,227.5 595.5,227.5 596.5,227.5 597.5,227.5 598.5,227.5 599.5,228.5 600.5,227.5 601.5,226.5 602.5,226.5 603.5,226.5 604.5,227.5 605.5,226.5 606.5,227.5 607.5,227.5 608.5,227.5 609.5,226.5 610.5,226.5 611.5,226.5 612.5,226.5 613.5,227.5 614.5,226.5 615.5,226.5 616.5,227.5 617.5,227.5 618.5,227.5 619.5,227.5 620.5,227.5 621.5,226.5 622.5,227.5 623.5,227.5 624.5,227.5 625.5,226.5 626.5,226.5 627.5,227.5 628.5,227.5 629.5,227.5 630.5,226.5 631.5,227.5 632.5,226.5 633.5,226.5 634.5,226.5 635.5,226.5 636.5,227.5 637.5,227.5 638.5,226.5 639.5,227.5 640.5,227.5 641.5,226.5 642.5,226.5 643.5,227.5 644.5,227.5 645.5,226.5 646.5,226.5 647.5,226.5 648.5,226.5 649.5,226.5 650.5,226.5 651.5,227.5 652.5,226.5 653.5,226.5 654.5,227.5 655.5,227.5 656.5,227.5 657.5,226.5 658.5,226.5 659.5,226.5 660.5,225.5 661.5,226.5 662.5,226.5 663.5,226.5 664.5,226.5 665.5,227.5 666.5,226.5 667.5,226.5 668.5,226.5 669.5,227.5 670.5,226.5 671.5,226.5 672.5,226.5 673.5,226.5 674.5,226.5 675.5,226.5 676.5,226.5 677.5,226.5 678.5,226.5 679.5,226.5 680.5,226.5 681.5,225.5 682.5,225.5 683.5,226.5 684.5,226.5 685.5,225.5 686.5,226.5 687.5,226.5 688.5,225.5 689.5,226.5 690.5,226.5 691.5,226.5 692.5,226.5 693.5,226.5 694.5,225.5 695.5,226.5 696.5,225.5 697.5,225.5 698.5,225.5 699.5,225.5 700.5,225.5 701.5,225.5 702.5,225.5 703.5,225.5 704.5,225.5 705.5,225.5 706.5,226.5 707.5,225.5 708.5,225.5 709.5,225.5 710.5,225.5 711.5,225.5 712.5,224.5 713.5,225.5 714.5,225.5 715.5,224.5 716.5,225.5 717.5,225.5 718.5,225.5 719.5,225.5 720.5,225.5 721.5,225.5 722.5,225.5 723.5,225.5 724.5,225.5 725.5,226.5 726.5,225.5 727.5,225.5 728.5,226.5 729.5,225.5 730.5,225.5 731.5,225.5 732.5,225.5 733.5,225.5 734.5,224.5 735.5,225.5 736.5,225.5 737.5,225.5 738.5,225.5 739.5,224.5 740.5,225.5 741.5,225.5 742.5,225.5 743.5,225.5 744.5,225.5 745.5,225.5 746.5,225.5 747.5,225.5 748.5,225.5 749.5,225.5 750.5,226.5 751.5,225.5 752.5,226.5 753.5,226.5 754.5,225.5 755.5,225.5 756.5,225.5 757.5,225.5 758.5,225.5 759.5,225.5 760.5,225.5 761.5,225.5 762.5,225.5 763.5,225.5 764.5,225.5 765.5,225.5 766.5,224.5 767.5,224.5 768.5,224.5 769.5,225.5 770.5,224.5 771.5,225.5 772.5,225.5 773.5,226.5 774.5,226.5 775.5,225.5 776.5,225.5 777.5,225.5 778.5,225.5 779.5,225.5 780.5,225.5 781.5,225.5 782.5,225.5 783.5,225.5 784.5,225.5 785.5,225.5 786.5,225.5"/>
<polyline fill="none" stroke="#1e7482" stroke-width="1.1"  points="67.5,358.5 68.5,350.5 69.5,350.5 70.5,350.5 71.5,349.5 72.5,349.5 73.5,350.5 74.5,350.5 75.5,350.5 76.5,349.5 77.5,349.5 78.5,349.5 79.5,349.5 80.5,349.5 81.5,348.5 82.5,348.5 83.5,348.5 84.5,348.5 85.5,348.5 86.5,349.5 87.5,348.5 88.5,348.5 89.5,348.5 90.5,348.5 91.5,348.5 92.5,348.5 93.5,348.5 94.5,347.5 95.5,348.5 96.5,347.5 97.5,347.5 98.5,347.5 99.5,347.5 100.5,347.5 101.5,347.5 102.5,347.5 103.5,346.5 104.5,346.5 105.5,347.5 106.5,346.5 107.5,347.5 108.5,346.5 109.5,346.5 110.5,347.5 111.5,346.5 112.5,346.5 113.5,346.5 114.5,346.5 115.5,345.5 116.5,346.5 117.5,346.5 118.5,345.5 119.5,345.5 120.5,345.5 121.5,345.5 122.5,345.5 123.5,344.5 124.5,345.5 125.5,345.5 126.5,345.5 127.5,345.5 128.5,345.5 129.5,345.5 130.5,345.5 131.5,344.5 132.5,345.5 133.5,344.5 134.5,344.5 135.5,344.5 136.5,343.5 137.5,343.5 138.5,344.5 139.5,343.5 140.5,343.5 141.5,343.5 142.5,343.5 143.5,342.5 144.5,342.5 145.5,342.5 146.5,342.5 147.5,342.5 148.5,342.5 149.5,342.5 150.5,343.5 151.5,341.5 152.5,342.5 153.5,342.5 154.5,342.5 155.5,341.5 156.5,342.5 157.5,341.5 158.5,341.5 159.5,341.5 160.5,341.5 161.5,341.5 162.5,341.5 163.5,341.5 164.5,340.5 165.5,340.5 166.5,340.5 167.5,340.5 168.5,340.5 169.5,340.5 170.5,340.5 171.5,340.5 172.5,340.5 173.5,340.5 174.5,340.5 175.5,339.5 176.5,339.5 177.5,339.5 178.5,339.5 179.5,339.5 180.5,339.5 181.5,339.5 182.5,338.5 183.5,338.5 184.5,338.5 185.5,338.5 186.5,338.5 187.5,338.5 188.5,338.5 189.5,338.5 190.5,338.5 191.5,338.5 192.5,337.5 193.5,337.5 194.5,337.5 195.5,337.5 196.5,337.5 197.5,337.5 198.5,337.5 199.5,337.5 200.5,337.5 201.5,337.5 202.5,337.5 203.5,336.5 204.5,336.5 205.5,336.5 206.5,336.5 207.5,336.5 208.5,337.5 209.5,336.5 210.5,336.5 211.5,335.5 212.5,336.5 213.5,335.5 214.5,335.5 215.5,335.5 216.5,335.5 217.5,335.5 218.5,336.5 219.5,335.5 220.5,335.5 221.5,334.5 222.5,334.5 223.5,334.5 224.5,334.5 225.5,334.5 226.5,334.5 227.5,333.5 228.5,333.5 229.5,333.5 230.5,333.5 231.5,333.5 232.5,333.5 233.5,333.5 234.5,333.5 235.5,333.5 236.5,333.5 237.5,333.5 238.5,332.5 239.5,333.5 240.5,332.5 241.5,332.5 242.5,332.5 243.5,332.5 244.5,332.5 245.5,331.5 246.5,331.5 247.5,332.5 248.5,331.5 249.5,332.5 250.5,332.5 251.5,331.5 252.5,331.5 253.5,331.5 254.5,331.5 255.5,330.5 256.5,330.5 257.5,330.5 258.5,330.5 259.5,330.5 260.5,330.5 261.5,329.5 262.5,330.5 263.5,329.5 264.5,329.5 265.5,328.5 266.5,328.5 267.5,329.5 268.5,328.5 269.5,328.5 270.5,329.5 271.5,328.5 272.5,327.5 273.5,327.5 274.5,328.5 275.5,328.5 276.5,328.5 277.5,328.5 278.5,328.5 279.5,328.5 280.5,328.5 281.5,327.5 282.5,327.5 283.5,327.5 284.5,326.5 285.5,327.5 286.5,326.5 287.5,326.5 288.5,326.5 289.5,327.5 290.5,326.5 291.5,327.5 292.5,325.5 293.5,325.5 294.5,325.5 295.5,325.5 296.5,325.5 297.5,324.5 298.5,324.5 299.5,324.5 300.5,324.5 301.5,324.5 302.5,325.5 303.5,324.5 304.5,323.5 305.5,324.5 306.5,324.5 307.5,324.5 308.5,323.5 309.5,323.5 310.5,323.5 311.5,323.5 312.5,323.5 313.5,323.5 314.5,322.5 315.5,322.5 316.5,322.5 317.5,322.5 318.5,322.5 319.5,322.5 320.5,322.5 321.5,322.5 322.5,322.5 323.5,321.5 324.5,322.5 325.5,321.5 326.5,321.5 327.5,321.5 328.5,321.5 329.5,320.5 330.5,321.5 331.5,321.5 332.5,320.5 333.5,320.5 334.5,320.5 335.5,320.5 336.5,320.5 337.5,320.5 338.5,319.5 339.5,319.5 340.5,320.5 341.5,319.5 342.5,319.5 343.5,318.5 344.5,319.5 345.5,319.5 346.5,318.5 347.5,318.5 348.5,319.5 349.5,318.5 350.5,319.5 351.5,318.5 352.5,318.5 353.5,318.5 354.5,317.5 355.5,317.5 356.5,317.5 357.5,317.5 358.5,317.5 359.5,317.5 360.5,317.5 361.5,317.5 362.5,317.5 363.5,317.5 364.5,316.5 365.5,317.5 366.5,317.5 367.5,316.5 368.5,316.5 369.5,316.5 370.5,316.5 371.5,316.5 372.5,316.5 373.5,316.5 374.5,316.5 375.5,316.5 376.5,316.5 377.5,315.5 378.5,315.5 379.5,315.5 380.5,315.5 381.5,315.5 382.5,314.5 383.5,314.5 384.5,314.5 385.5,314.5 386.5,315.5 387.5,305.5 388.5,305.5 389.5,305.5 390.5,306.5 391.5,306.5 392.5,306.5 393.5,307.5 394.5,307.5 395.5,307.5 396.5,307.5 397.5,306.5 398.5,308.5 399.5,307.5 400.5,307.5 401.5,307.5 402.5,308.5 403.5,308.5 404.5,309.5 405.5,309.5 406.5,309.5 407.5,309.5 408.5,308.5 409.5,309.5 410.5,309.5 411.5,309.5 412.5,308.5 413.5,309.5 414.5,308.5 415.5,309.5 416.5,308.5 417.5,308.5 418.5,308.5 419.5,308.5 420.5,309.5 421.5,308.5 422.5,308.5 423.5,308.5 424.5,309.5 425.5,308.5 426.5,309.5 427.5,309.5 428.5,309.5 429.5,309.5 430.5,308.5 431.5,308.5 432.5,308.5 433.5,309.5 434.5,309.5 435.5,308.5 436.5,308.5 437.5,308.5 438.5,308.5 439.5,309.5 440.5,309.5 441.5,309.5 442.5,309.5 443.5,309.5 444.5,308.5 445.5,309.5 446.5,308.5 447.5,308.5 448.5,308.5 449.5,308.5 450.5,308.5 451.5,309.5 452.5,308.5 453.5,309.5 454.5,309.5 455.5,309.5 456.5,309.5 457.5,309.5 458.5,309.5 459.5,309.5 460.5,309.5 461.5,309.5 462.5,309.5 463.5,309.5 464.5,309.5 465.5,308.5 466.5,309.5 467.5,309.5 468.5,309.5 469.5,309.5 470.5,309.5 471.5,309.5 472.5,309.5 473.5,308.5 474.5,309.5 475.5,309.5 476.5,309.5 477.5,308.5 478.5,309.5 479.5,309.5 480.5,309.5 481.5,309.5 482.5,308.5 483.5,309.5 484.5,309.5 485.5,309.5 486.5,308.5 487.5,308.5 488.5,309.5 489.5,308.5 490.5,308.5 491.5,309.5 492.5,308.5 493.5,308.5 494.5,308.5 495.5,308.5 496.5,308.5 497.5,308.5 498.5,308.5 499.5,309.5 500.5,308.5 501.5,308.5 502.5,308.5 503.5,309.5 504.5,309.5 505.5,308.5 506.5,309.5 507.5,308.5 508.5,309.5 509.5,308.5 510.5,308.5 511.5,308.5 512.5,308.5 513.5,309.5 514.5,309.5 515.5,308.5 516.5,308.5 517.5,308.5 518.5,308.5 519.5,308.5 520.5,308.5 521.5,308.5 522.5,308.5 523.5,308.5 524.5,308.5 525.5,308.5 526.5,308.5 527.5,309.5 528.5,308.5 529.5,308.5 530.5,308.5 531.5,309.5 532.5,309.5 533.5,309.5 534.5,308.5 535.5,308.5 536.5,308.5 537.5,308.5 538.5,308.5 539.5,308.5 540.5,309.5 541.5,308.5 542.5,308.5 543.5,308.5 544.5,308.5 545.5,307.5 546.5,308.5 547.5,308.5 548.5,307.5 549.5,308.5 550.5,308.5 551.5,308.5 552.5,308.5 553.5,308.5 554.5,308.5 555.5,308.5 556.5,308.5 557.5,308.5 558.5,308.5 559.5,308.5 560.5,307.5 561.5,308.5 562.5,309.5 563.5,309.5 564.5,308.5 565.5,308.5 566.5,307.5 567.5,307.5 568.5,308.5 569.5,307.5 570.5,307.5 571.5,307.5 572.5,307.5 573.5,307.5 574.5,307.5 575.5,308.5 576.5,307.5 577.5,307.5 578.5,308.5 579.5,308.5 580.5,307.5 581.5,307.5 582.5,307.5 583.5,308.5 584.5,307.5 585.5,307.5 586.5,307.5 587.5,307.5 588.5,307.5 589.5,308.5 590.5,307.5 591.5,307.5 592.5,307.5 593.5,307.5 594.5,307.5 595.5,308.5 596.5,308.5 597.5,308.5 598.5,308.5 599.5,307.5 600.5,308.5 601.5,308.5 602.5,308.5 603.5,308.5 604.5,307.5 605.5,307.5 606.5,307.5 607.5,308.5 608.5,307.5 609.5,307.5 610.5,307.5 611.5,307.5 612.5,307.5 613.5,308.5 614.5,308.5 615.5,308.5 616.5,307.5 617.5,308.5 618.5,308.5 619.5,308.5 620.5,308.5 621.5,308.5 622.5,307.5 623.5,307.5 624.5,307.5 625.5,307.5 626.5,307.5 627.5,307.5 628.5,307.5 629.5,307.5 630.5,306.5 631.5,306.5 632.5,307.5 633.5,307.5 634.5,306.5 635.5,306.5 636.5,307.5 637.5,307.5 638.5,307.5 639.5,308.5 640.5,307.5 641.5,308.5 642.5,307.5 643.5,307.5 644.5,307.5 645.5,307.5 646.5,306.5 647.5,307.5 648.5,307.5 649.5,307.5 650.5,306.5 651.5,306.5 652.5,307.5 653.5,307.5 654.5,307.5 655.5,307.5 656.5,308.5 657.5,307.5 658.5,307.5 659.5,307.5 660.5,307.5 661.5,307.5 662.5,307.5 663.5,307.5 664.5,307.5 665.5,308.5 666.5,307.5 667.5,308.5 668.5,307.5 669.5,307.5 670.5,307.5 671.5,307.5 672.5,306.5 673.5,307.5 674.5,307.5 675.5,307.5 676.5,307.5 677.5,307.5 678.5,307.5 679.5,307.5 680.5,308.5 681.5,307.5 682.5,307.5 683.5,307.5 684.5,307.5 685.5,306.5 686.5,307.5 687.5,307.5 688.5,306.5 689.5,307.5 690.5,307.5 691.5,307.5 692.5,307.5 693.5,307.5 694.5,308.5 695.5,308.5 696.5,307.5 697.5,307.5 698.5,307.5 699.5,307.5 700.5,307.5 701.5,307.5 702.5,306.5 703.5,307.5 704.5,307.5 705.5,307.5 706.5,307.5 707.5,307.5 708.5,308.5 709.5,307.5 710.5,307.5 711.5,307.5 712.5,307.5 713.5,306.5 714.5,307.5 715.5,307.5 716.5,306.5 717.5,307.5 718.5,306.5 719.5,307.5 720.5,306.5 721.5,306.5 722.5,307.5 723.5,307.5 724.5,307.5 725.5,307.5 726.5,307.5 727.5,307.5 728.5,307.5 729.5,307.5 730.5,306.5 731.5,306.5 732.5,306.5 733.5,306.5 734.5,306.5 735.5,306.5 736.5,306.5 737.5,306.5 738.5,306.5 739.5,306.5 740.5,306.5 741.5,306.5 742.5,306.5 743.5,306.5 744.5,306.5 745.5,306.5 746.5,306.5 747.5,306.5 748.5,306.5 749.5,306.5 750.5,307.5 751.5,306.5 752.5,306.5 753.5,306.5 754.5,306.5 755.5,305.5 756.5,306.5 757.5,305.5 758.5,306.5 759.5,306.5 760.5,306.5 761.5,306.5 762.5,306.5 763.5,306.5 764.5,306.5 765.5,306.5 766.5,306.5 767.5,306.5 768.5,306.5 769.5,306.5 770.5,306.5 771.5,307.5 772.5,306.5 773.5,306.5 774.5,306.5 775.5,306.5 776.5,306.5 777.5,306.5 778.5,306.5 779.5,306.5 780.5,306.5 781.5,306.5 782.5,306.5 783.5,306.5 784.5,306.5 785.5,306.5 786.5,306.5"/>
<polyline fill="none" stroke="#ae1420" stroke-width="1.15"  points="67.5,342.5 68.5,339.4 69.5,336.3 70.5,333.2 71.5,330.2 72.5,327.2 73.5,324.2 74.5,321.3 75.5,318.4 76.5,315.5 77.5,312.6 78.5,309.8 79.5,306.9 80.5,304.1 81.5,301.4 82.5,298.6 83.5,295.9 84.5,293.2 85.5,290.6 86.5,287.9 87.5,285.3 88.5,282.7 89.5,280.2 90.5,277.6 91.5,275.1 92.5,272.6 93.5,270.1 94.5,267.7 95.5,265.3 96.5,262.8 97.5,260.5 98.5,258.1 99.5,255.8 100.5,253.4 101.5,251.1 102.5,248.9 103.4,246.6 104.4,244.4 105.4,242.2 106.4,240.0 107.4,237.8 108.4,235.6 109.4,233.5 110.4,231.4 111.4,229.3 112.4,227.2 113.4,225.1 114.4,223.1 115.4,221.1 116.4,219.1 117.4,217.1 118.4,215.1 119.4,213.2 120.4,211.3 121.4,209.3 122.4,207.5 123.4,205.6 124.4,203.7 125.4,201.9 126.4,200.1 127.4,198.2 128.4,196.4 129.4,194.7 130.4,192.9 131.4,191.2 132.4,189.4 133.4,187.7 134.4,186.0 135.4,184.4 136.4,182.7 137.4,181.0 138.4,179.4 139.4,177.8 140.4,176.2 141.4,174.6 142.4,173.0 143.4,171.5 144.4,169.9 145.4,168.4 146.4,166.9 147.4,165.4 148.4,163.9 149.4,162.4 150.4,160.9 151.4,159.5 152.4,158.0 153.4,156.6 154.4,155.2 155.4,153.8 156.4,152.4 157.4,151.1 158.4,149.7 159.4,148.4 160.4,147.0 161.4,145.7 162.4,144.4 163.4,143.1 164.4,141.8 165.4,140.5 166.4,139.3 167.4,138.0 168.4,136.8 169.4,135.6 170.4,134.3 171.4,133.1 172.4,131.9 173.4,130.8 174.4,129.6 175.3,128.4 176.3,127.3 177.3,126.1 178.3,125.0 179.3,123.9 180.3,122.8 181.3,121.7 182.3,120.6 183.3,119.5 184.3,118.4 185.3,117.4 186.3,116.3 187.3,115.3 188.3,114.2 189.3,113.2 190.3,112.2 191.3,111.2 192.3,110.2 193.3,109.2 194.3,108.3 195.3,107.3 196.3,106.3 197.3,105.4 198.3,104.4 199.3,103.5 200.3,102.6 201.3,101.7 202.3,100.8 203.3,99.9 204.3,99.0 205.3,98.1 206.3,97.2 207.3,96.4 208.3,95.5 209.3,94.7 210.3,93.8 211.3,93.0 212.3,92.2 213.3,91.3 214.3,90.5 215.3,89.7 216.3,88.9 217.3,88.1 218.3,87.4 219.3,86.6 220.3,85.8 221.3,85.1 222.3,84.3 223.3,83.6 224.3,82.8 225.3,82.1 226.3,81.4 227.3,80.6 228.3,79.9 229.3,79.2 230.3,78.5 231.3,77.8 232.3,77.1 233.3,76.5 234.3,75.8 235.3,75.1 236.3,74.5 237.3,73.8 238.3,73.2 239.3,72.5 240.3,71.9 241.3,71.2 242.3,70.6 243.3,70.0 244.3,69.4 245.3,68.8 246.3,68.2 247.2,67.6 248.2,67.0 249.2,66.4 250.2,65.8 251.2,65.2 252.2,64.7 253.2,64.1 254.2,63.5 255.2,63.0 256.2,62.4 257.2,61.9 258.2,61.3 259.2,60.8 260.2,60.3 261.2,59.7 262.2,59.2 263.2,58.7 264.2,58.2 265.2,57.7 266.2,57.2 267.2,56.7 268.2,56.2 269.2,55.7 270.2,55.2 271.2,54.7 272.2,54.3 273.2,53.8 274.2,53.3 275.2,52.9 276.2,52.4 277.2,52.0 278.2,51.5 279.2,51.1 280.2,50.6 281.2,50.2 282.2,49.8 283.2,49.3 284.2,48.9 285.2,48.5 286.2,48.1 287.2,47.6 288.2,47.2 289.2,46.8 290.2,46.4 291.2,46.0 292.2,45.6 293.2,45.2 294.2,44.9 295.2,44.5 296.2,44.1 297.2,43.7 298.2,43.3 299.2,43.0 300.2,42.6 301.2,42.2 302.2,41.9 303.2,41.5 304.2,41.2 305.2,40.8 306.2,40.5 307.2,40.1 308.2,39.8 309.2,39.4 310.2,39.1 311.2,38.8 312.2,38.5 313.2,38.1 314.2,37.8 315.2,37.5 316.2,37.2 317.2,36.9 318.2,36.5 319.1,36.2 320.1,35.9 321.1,35.6 322.1,35.3 323.1,35.0 324.1,34.7 325.1,34.4 326.1,34.2 327.1,33.9 328.1,33.6 329.1,33.3 330.1,33.0 331.1,32.8 332.1,32.5 333.1,32.2 334.1,31.9 335.1,31.7 336.1,31.4 337.1,31.2 338.1,30.9 339.1,30.6 340.1,30.4 341.1,30.1 342.1,29.9 343.1,29.6 344.1,29.4 345.1,29.2 346.1,28.9 347.1,28.7 348.1,28.4 349.1,28.2 350.1,28.0 351.1,27.7 352.1,27.5 353.1,27.3 354.1,27.1 355.1,26.8 356.1,26.6 357.1,26.4 358.1,26.2 359.1,26.0 360.1,25.8 361.1,25.6 362.1,25.4 363.1,25.1 364.1,24.9 365.1,24.7 366.1,24.5 367.1,24.3 368.1,24.2 369.1,24.0 370.1,23.8 371.1,23.6 372.1,23.4 373.1,23.2 374.1,23.0 375.1,22.8 376.1,22.6 377.1,22.5 378.1,22.3 379.1,22.1 380.1,21.9 381.1,21.8 382.1,21.6 383.1,21.4 384.1,21.2 385.1,21.1 386.1,20.9 387.1,20.5 786.5,20.5"/>
<polyline fill="none" stroke="#ae1420" stroke-width="1.15"  points="67.5,342.5 68.5,341.0 69.5,339.6 70.5,338.1 71.5,336.6 72.5,335.2 73.5,333.7 74.5,332.3 75.5,330.9 76.5,329.5 77.5,328.0 78.5,326.6 79.5,325.2 80.5,323.8 81.5,322.4 82.5,321.1 83.5,319.7 84.5,318.3 85.5,317.0 86.5,315.6 87.5,314.2 88.5,312.9 89.5,311.6 90.5,310.2 91.5,308.9 92.5,307.6 93.5,306.3 94.5,305.0 95.5,303.7 96.5,302.4 97.5,301.1 98.5,299.8 99.5,298.5 100.5,297.2 101.5,296.0 102.5,294.7 103.4,293.4 104.4,292.2 105.4,291.0 106.4,289.7 107.4,288.5 108.4,287.3 109.4,286.0 110.4,284.8 111.4,283.6 112.4,282.4 113.4,281.2 114.4,280.0 115.4,278.8 116.4,277.6 117.4,276.5 118.4,275.3 119.4,274.1 120.4,273.0 121.4,271.8 122.4,270.7 123.4,269.5 124.4,268.4 125.4,267.2 126.4,266.1 127.4,265.0 128.4,263.9 129.4,262.8 130.4,261.7 131.4,260.6 132.4,259.5 133.4,258.4 134.4,257.3 135.4,256.2 136.4,255.1 137.4,254.0 138.4,253.0 139.4,251.9 140.4,250.9 141.4,249.8 142.4,248.7 143.4,247.7 144.4,246.7 145.4,245.6 146.4,244.6 147.4,243.6 148.4,242.6 149.4,241.5 150.4,240.5 151.4,239.5 152.4,238.5 153.4,237.5 154.4,236.5 155.4,235.6 156.4,234.6 157.4,233.6 158.4,232.6 159.4,231.7 160.4,230.7 161.4,229.7 162.4,228.8 163.4,227.8 164.4,226.9 165.4,225.9 166.4,225.0 167.4,224.1 168.4,223.1 169.4,222.2 170.4,221.3 171.4,220.4 172.4,219.5 173.4,218.5 174.4,217.6 175.3,216.7 176.3,215.8 177.3,215.0 178.3,214.1 179.3,213.2 180.3,212.3 181.3,211.4 182.3,210.6 183.3,209.7 184.3,208.8 185.3,208.0 186.3,207.1 187.3,206.3 188.3,205.4 189.3,204.6 190.3,203.7 191.3,202.9 192.3,202.1 193.3,201.2 194.3,200.4 195.3,199.6 196.3,198.8 197.3,198.0 198.3,197.2 199.3,196.3 200.3,195.5 201.3,194.7 202.3,194.0 203.3,193.2 204.3,192.4 205.3,191.6 206.3,190.8 207.3,190.0 208.3,189.3 209.3,188.5 210.3,187.7 211.3,187.0 212.3,186.2 213.3,185.5 214.3,184.7 215.3,184.0 216.3,183.2 217.3,182.5 218.3,181.7 219.3,181.0 220.3,180.3 221.3,179.5 222.3,178.8 223.3,178.1 224.3,177.4 225.3,176.7 226.3,176.0 227.3,175.2 228.3,174.5 229.3,173.8 230.3,173.1 231.3,172.4 232.3,171.8 233.3,171.1 234.3,170.4 235.3,169.7 236.3,169.0 237.3,168.3 238.3,167.7 239.3,167.0 240.3,166.3 241.3,165.7 242.3,165.0 243.3,164.4 244.3,163.7 245.3,163.1 246.3,162.4 247.2,161.8 248.2,161.1 249.2,160.5 250.2,159.8 251.2,159.2 252.2,158.6 253.2,158.0 254.2,157.3 255.2,156.7 256.2,156.1 257.2,155.5 258.2,154.9 259.2,154.2 260.2,153.6 261.2,153.0 262.2,152.4 263.2,151.8 264.2,151.2 265.2,150.6 266.2,150.1 267.2,149.5 268.2,148.9 269.2,148.3 270.2,147.7 271.2,147.1 272.2,146.6 273.2,146.0 274.2,145.4 275.2,144.9 276.2,144.3 277.2,143.7 278.2,143.2 279.2,142.6 280.2,142.1 281.2,141.5 282.2,141.0 283.2,140.4 284.2,139.9 285.2,139.3 286.2,138.8 287.2,138.3 288.2,137.7 289.2,137.2 290.2,136.7 291.2,136.1 292.2,135.6 293.2,135.1 294.2,134.6 295.2,134.1 296.2,133.5 297.2,133.0 298.2,132.5 299.2,132.0 300.2,131.5 301.2,131.0 302.2,130.5 303.2,130.0 304.2,129.5 305.2,129.0 306.2,128.5 307.2,128.0 308.2,127.6 309.2,127.1 310.2,126.6 311.2,126.1 312.2,125.6 313.2,125.2 314.2,124.7 315.2,124.2 316.2,123.7 317.2,123.3 318.2,122.8 319.1,122.3 320.1,121.9 321.1,121.4 322.1,121.0 323.1,120.5 324.1,120.1 325.1,119.6 326.1,119.2 327.1,118.7 328.1,118.3 329.1,117.8 330.1,117.4 331.1,117.0 332.1,116.5 333.1,116.1 334.1,115.7 335.1,115.2 336.1,114.8 337.1,114.4 338.1,114.0 339.1,113.5 340.1,113.1 341.1,112.7 342.1,112.3 343.1,111.9 344.1,111.5 345.1,111.0 346.1,110.6 347.1,110.2 348.1,109.8 349.1,109.4 350.1,109.0 351.1,108.6 352.1,108.2 353.1,107.8 354.1,107.4 355.1,107.0 356.1,106.7 357.1,106.3 358.1,105.9 359.1,105.5 360.1,105.1 361.1,104.7 362.1,104.4 363.1,104.0 364.1,103.6 365.1,103.2 366.1,102.9 367.1,102.5 368.1,102.1 369.1,101.8 370.1,101.4 371.1,101.0 372.1,100.7 373.1,100.3 374.1,99.9 375.1,99.6 376.1,99.2 377.1,98.9 378.1,98.5 379.1,98.2 380.1,97.8 381.1,97.5 382.1,97.1 383.1,96.8 384.1,96.4 385.1,96.1 386.1,95.8 387.1,95.5 786.5,95.5"/>
<polyline fill="none" stroke="#ae1420" stroke-width="1.15"  points="67.5,342.5 68.5,341.7 69.5,340.9 70.5,340.1 71.5,339.3 72.5,338.5 73.5,337.7 74.5,336.9 75.5,336.1 76.5,335.3 77.5,334.5 78.5,333.8 79.5,333.0 80.5,332.2 81.5,331.4 82.5,330.6 83.5,329.9 84.5,329.1 85.5,328.3 86.5,327.5 87.5,326.8 88.5,326.0 89.5,325.2 90.5,324.5 91.5,323.7 92.5,322.9 93.5,322.2 94.5,321.4 95.5,320.7 96.5,319.9 97.5,319.2 98.5,318.4 99.5,317.7 100.5,316.9 101.5,316.2 102.5,315.4 103.4,314.7 104.4,313.9 105.4,313.2 106.4,312.5 107.4,311.7 108.4,311.0 109.4,310.3 110.4,309.5 111.4,308.8 112.4,308.1 113.4,307.4 114.4,306.6 115.4,305.9 116.4,305.2 117.4,304.5 118.4,303.7 119.4,303.0 120.4,302.3 121.4,301.6 122.4,300.9 123.4,300.2 124.4,299.5 125.4,298.8 126.4,298.1 127.4,297.4 128.4,296.7 129.4,296.0 130.4,295.3 131.4,294.6 132.4,293.9 133.4,293.2 134.4,292.5 135.4,291.8 136.4,291.1 137.4,290.4 138.4,289.7 139.4,289.0 140.4,288.4 141.4,287.7 142.4,287.0 143.4,286.3 144.4,285.6 145.4,285.0 146.4,284.3 147.4,283.6 148.4,283.0 149.4,282.3 150.4,281.6 151.4,281.0 152.4,280.3 153.4,279.6 154.4,279.0 155.4,278.3 156.4,277.6 157.4,277.0 158.4,276.3 159.4,275.7 160.4,275.0 161.4,274.4 162.4,273.7 163.4,273.1 164.4,272.4 165.4,271.8 166.4,271.1 167.4,270.5 168.4,269.9 169.4,269.2 170.4,268.6 171.4,267.9 172.4,267.3 173.4,266.7 174.4,266.0 175.3,265.4 176.3,264.8 177.3,264.2 178.3,263.5 179.3,262.9 180.3,262.3 181.3,261.7 182.3,261.0 183.3,260.4 184.3,259.8 185.3,259.2 186.3,258.6 187.3,258.0 188.3,257.3 189.3,256.7 190.3,256.1 191.3,255.5 192.3,254.9 193.3,254.3 194.3,253.7 195.3,253.1 196.3,252.5 197.3,251.9 198.3,251.3 199.3,250.7 200.3,250.1 201.3,249.5 202.3,248.9 203.3,248.3 204.3,247.7 205.3,247.1 206.3,246.5 207.3,246.0 208.3,245.4 209.3,244.8 210.3,244.2 211.3,243.6 212.3,243.0 213.3,242.5 214.3,241.9 215.3,241.3 216.3,240.7 217.3,240.2 218.3,239.6 219.3,239.0 220.3,238.4 221.3,237.9 222.3,237.3 223.3,236.7 224.3,236.2 225.3,235.6 226.3,235.1 227.3,234.5 228.3,233.9 229.3,233.4 230.3,232.8 231.3,232.3 232.3,231.7 233.3,231.2 234.3,230.6 235.3,230.1 236.3,229.5 237.3,229.0 238.3,228.4 239.3,227.9 240.3,227.3 241.3,226.8 242.3,226.2 243.3,225.7 244.3,225.1 245.3,224.6 246.3,224.1 247.2,223.5 248.2,223.0 249.2,222.5 250.2,221.9 251.2,221.4 252.2,220.9 253.2,220.3 254.2,219.8 255.2,219.3 256.2,218.8 257.2,218.2 258.2,217.7 259.2,217.2 260.2,216.7 261.2,216.2 262.2,215.6 263.2,215.1 264.2,214.6 265.2,214.1 266.2,213.6 267.2,213.1 268.2,212.6 269.2,212.0 270.2,211.5 271.2,211.0 272.2,210.5 273.2,210.0 274.2,209.5 275.2,209.0 276.2,208.5 277.2,208.0 278.2,207.5 279.2,207.0 280.2,206.5 281.2,206.0 282.2,205.5 283.2,205.0 284.2,204.5 285.2,204.0 286.2,203.5 287.2,203.1 288.2,202.6 289.2,202.1 290.2,201.6 291.2,201.1 292.2,200.6 293.2,200.1 294.2,199.7 295.2,199.2 296.2,198.7 297.2,198.2 298.2,197.7 299.2,197.3 300.2,196.8 301.2,196.3 302.2,195.8 303.2,195.4 304.2,194.9 305.2,194.4 306.2,194.0 307.2,193.5 308.2,193.0 309.2,192.6 310.2,192.1 311.2,191.6 312.2,191.2 313.2,190.7 314.2,190.2 315.2,189.8 316.2,189.3 317.2,188.9 318.2,188.4 319.1,188.0 320.1,187.5 321.1,187.0 322.1,186.6 323.1,186.1 324.1,185.7 325.1,185.2 326.1,184.8 327.1,184.3 328.1,183.9 329.1,183.5 330.1,183.0 331.1,182.6 332.1,182.1 333.1,181.7 334.1,181.2 335.1,180.8 336.1,180.4 337.1,179.9 338.1,179.5 339.1,179.1 340.1,178.6 341.1,178.2 342.1,177.8 343.1,177.3 344.1,176.9 345.1,176.5 346.1,176.0 347.1,175.6 348.1,175.2 349.1,174.8 350.1,174.3 351.1,173.9 352.1,173.5 353.1,173.1 354.1,172.6 355.1,172.2 356.1,171.8 357.1,171.4 358.1,171.0 359.1,170.5 360.1,170.1 361.1,169.7 362.1,169.3 363.1,168.9 364.1,168.5 365.1,168.1 366.1,167.7 367.1,167.3 368.1,166.8 369.1,166.4 370.1,166.0 371.1,165.6 372.1,165.2 373.1,164.8 374.1,164.4 375.1,164.0 376.1,163.6 377.1,163.2 378.1,162.8 379.1,162.4 380.1,162.0 381.1,161.6 382.1,161.2 383.1,160.8 384.1,160.4 385.1,160.0 386.1,159.7 387.1,159.5 786.5,159.5"/>
<polyline fill="none" stroke="#ae1420" stroke-width="1.15"  points="67.5,342.5 68.5,342.1 69.5,341.6 70.5,341.2 71.5,340.7 72.5,340.3 73.5,339.8 74.5,339.4 75.5,339.0 76.5,338.5 77.5,338.1 78.5,337.7 79.5,337.2 80.5,336.8 81.5,336.3 82.5,335.9 83.5,335.5 84.5,335.0 85.5,334.6 86.5,334.2 87.5,333.7 88.5,333.3 89.5,332.9 90.5,332.4 91.5,332.0 92.5,331.6 93.5,331.2 94.5,330.7 95.5,330.3 96.5,329.9 97.5,329.4 98.5,329.0 99.5,328.6 100.5,328.2 101.5,327.7 102.5,327.3 103.4,326.9 104.4,326.5 105.4,326.1 106.4,325.6 107.4,325.2 108.4,324.8 109.4,324.4 110.4,324.0 111.4,323.5 112.4,323.1 113.4,322.7 114.4,322.3 115.4,321.9 116.4,321.5 117.4,321.0 118.4,320.6 119.4,320.2 120.4,319.8 121.4,319.4 122.4,319.0 123.4,318.6 124.4,318.2 125.4,317.7 126.4,317.3 127.4,316.9 128.4,316.5 129.4,316.1 130.4,315.7 131.4,315.3 132.4,314.9 133.4,314.5 134.4,314.1 135.4,313.7 136.4,313.3 137.4,312.9 138.4,312.5 139.4,312.1 140.4,311.7 141.4,311.3 142.4,310.9 143.4,310.5 144.4,310.1 145.4,309.7 146.4,309.3 147.4,308.9 148.4,308.5 149.4,308.1 150.4,307.7 151.4,307.3 152.4,306.9 153.4,306.5 154.4,306.1 155.4,305.7 156.4,305.3 157.4,304.9 158.4,304.5 159.4,304.1 160.4,303.7 161.4,303.4 162.4,303.0 163.4,302.6 164.4,302.2 165.4,301.8 166.4,301.4 167.4,301.0 168.4,300.6 169.4,300.3 170.4,299.9 171.4,299.5 172.4,299.1 173.4,298.7 174.4,298.3 175.3,298.0 176.3,297.6 177.3,297.2 178.3,296.8 179.3,296.4 180.3,296.0 181.3,295.7 182.3,295.3 183.3,294.9 184.3,294.5 185.3,294.2 186.3,293.8 187.3,293.4 188.3,293.0 189.3,292.7 190.3,292.3 191.3,291.9 192.3,291.5 193.3,291.2 194.3,290.8 195.3,290.4 196.3,290.0 197.3,289.7 198.3,289.3 199.3,288.9 200.3,288.6 201.3,288.2 202.3,287.8 203.3,287.5 204.3,287.1 205.3,286.7 206.3,286.4 207.3,286.0 208.3,285.6 209.3,285.3 210.3,284.9 211.3,284.5 212.3,284.2 213.3,283.8 214.3,283.4 215.3,283.1 216.3,282.7 217.3,282.4 218.3,282.0 219.3,281.6 220.3,281.3 221.3,280.9 222.3,280.6 223.3,280.2 224.3,279.8 225.3,279.5 226.3,279.1 227.3,278.8 228.3,278.4 229.3,278.1 230.3,277.7 231.3,277.4 232.3,277.0 233.3,276.7 234.3,276.3 235.3,275.9 236.3,275.6 237.3,275.2 238.3,274.9 239.3,274.5 240.3,274.2 241.3,273.8 242.3,273.5 243.3,273.1 244.3,272.8 245.3,272.5 246.3,272.1 247.2,271.8 248.2,271.4 249.2,271.1 250.2,270.7 251.2,270.4 252.2,270.0 253.2,269.7 254.2,269.4 255.2,269.0 256.2,268.7 257.2,268.3 258.2,268.0 259.2,267.6 260.2,267.3 261.2,267.0 262.2,266.6 263.2,266.3 264.2,265.9 265.2,265.6 266.2,265.3 267.2,264.9 268.2,264.6 269.2,264.3 270.2,263.9 271.2,263.6 272.2,263.3 273.2,262.9 274.2,262.6 275.2,262.3 276.2,261.9 277.2,261.6 278.2,261.3 279.2,260.9 280.2,260.6 281.2,260.3 282.2,259.9 283.2,259.6 284.2,259.3 285.2,259.0 286.2,258.6 287.2,258.3 288.2,258.0 289.2,257.6 290.2,257.3 291.2,257.0 292.2,256.7 293.2,256.3 294.2,256.0 295.2,255.7 296.2,255.4 297.2,255.1 298.2,254.7 299.2,254.4 300.2,254.1 301.2,253.8 302.2,253.4 303.2,253.1 304.2,252.8 305.2,252.5 306.2,252.2 307.2,251.8 308.2,251.5 309.2,251.2 310.2,250.9 311.2,250.6 312.2,250.3 313.2,249.9 314.2,249.6 315.2,249.3 316.2,249.0 317.2,248.7 318.2,248.4 319.1,248.1 320.1,247.7 321.1,247.4 322.1,247.1 323.1,246.8 324.1,246.5 325.1,246.2 326.1,245.9 327.1,245.6 328.1,245.3 329.1,245.0 330.1,244.6 331.1,244.3 332.1,244.0 333.1,243.7 334.1,243.4 335.1,243.1 336.1,242.8 337.1,242.5 338.1,242.2 339.1,241.9 340.1,241.6 341.1,241.3 342.1,241.0 343.1,240.7 344.1,240.4 345.1,240.1 346.1,239.8 347.1,239.5 348.1,239.2 349.1,238.9 350.1,238.6 351.1,238.3 352.1,238.0 353.1,237.7 354.1,237.4 355.1,237.1 356.1,236.8 357.1,236.5 358.1,236.2 359.1,235.9 360.1,235.6 361.1,235.3 362.1,235.0 363.1,234.7 364.1,234.4 365.1,234.1 366.1,233.8 367.1,233.5 368.1,233.2 369.1,232.9 370.1,232.6 371.1,232.4 372.1,232.1 373.1,231.8 374.1,231.5 375.1,231.2 376.1,230.9 377.1,230.6 378.1,230.3 379.1,230.0 380.1,229.8 381.1,229.5 382.1,229.2 383.1,228.9 384.1,228.6 385.1,228.3 386.1,228.0 387.1,227.5 786.5,227.5"/>
<polyline fill="none" stroke="#ae1420" stroke-width="1.15"  points="67.5,342.5 68.5,342.4 69.5,342.3 70.5,342.2 71.5,342.1 72.5,342.0 73.5,341.9 74.5,341.8 75.5,341.7 76.5,341.6 77.5,341.5 78.5,341.4 79.5,341.3 80.5,341.2 81.5,341.1 82.5,341.0 83.5,340.9 84.5,340.8 85.5,340.7 86.5,340.6 87.5,340.5 88.5,340.4 89.5,340.3 90.5,340.2 91.5,340.1 92.5,340.0 93.5,339.9 94.5,339.8 95.5,339.7 96.5,339.6 97.5,339.5 98.5,339.4 99.5,339.3 100.5,339.2 101.5,339.1 102.5,339.0 103.4,338.9 104.4,338.8 105.4,338.7 106.4,338.6 107.4,338.5 108.4,338.4 109.4,338.3 110.4,338.2 111.4,338.1 112.4,338.0 113.4,337.8 114.4,337.7 115.4,337.6 116.4,337.5 117.4,337.4 118.4,337.3 119.4,337.2 120.4,337.1 121.4,337.0 122.4,336.9 123.4,336.8 124.4,336.7 125.4,336.6 126.4,336.5 127.4,336.4 128.4,336.3 129.4,336.2 130.4,336.1 131.4,336.0 132.4,335.9 133.4,335.8 134.4,335.7 135.4,335.6 136.4,335.5 137.4,335.4 138.4,335.3 139.4,335.2 140.4,335.1 141.4,335.0 142.4,334.9 143.4,334.8 144.4,334.7 145.4,334.6 146.4,334.5 147.4,334.4 148.4,334.3 149.4,334.2 150.4,334.1 151.4,334.0 152.4,333.9 153.4,333.8 154.4,333.7 155.4,333.6 156.4,333.5 157.4,333.4 158.4,333.3 159.4,333.2 160.4,333.1 161.4,333.0 162.4,332.9 163.4,332.8 164.4,332.7 165.4,332.6 166.4,332.5 167.4,332.4 168.4,332.3 169.4,332.2 170.4,332.1 171.4,332.0 172.4,331.9 173.4,331.8 174.4,331.7 175.3,331.6 176.3,331.5 177.3,331.4 178.3,331.3 179.3,331.2 180.3,331.1 181.3,331.0 182.3,330.9 183.3,330.8 184.3,330.7 185.3,330.6 186.3,330.5 187.3,330.4 188.3,330.3 189.3,330.2 190.3,330.1 191.3,330.0 192.3,329.9 193.3,329.8 194.3,329.7 195.3,329.6 196.3,329.5 197.3,329.4 198.3,329.3 199.3,329.2 200.3,329.1 201.3,329.0 202.3,328.9 203.3,328.8 204.3,328.7 205.3,328.6 206.3,328.5 207.3,328.4 208.3,328.3 209.3,328.2 210.3,328.1 211.3,328.0 212.3,327.9 213.3,327.8 214.3,327.7 215.3,327.6 216.3,327.5 217.3,327.4 218.3,327.3 219.3,327.2 220.3,327.1 221.3,327.0 222.3,326.9 223.3,326.8 224.3,326.7 225.3,326.6 226.3,326.5 227.3,326.4 228.3,326.3 229.3,326.2 230.3,326.1 231.3,326.0 232.3,325.9 233.3,325.7 234.3,325.6 235.3,325.5 236.3,325.4 237.3,325.3 238.3,325.2 239.3,325.1 240.3,325.0 241.3,324.9 242.3,324.8 243.3,324.7 244.3,324.6 245.3,324.5 246.3,324.4 247.2,324.3 248.2,324.2 249.2,324.1 250.2,324.0 251.2,323.9 252.2,323.8 253.2,323.7 254.2,323.6 255.2,323.5 256.2,323.4 257.2,323.3 258.2,323.2 259.2,323.1 260.2,323.0 261.2,322.9 262.2,322.8 263.2,322.7 264.2,322.6 265.2,322.5 266.2,322.4 267.2,322.3 268.2,322.2 269.2,322.1 270.2,322.0 271.2,321.9 272.2,321.8 273.2,321.7 274.2,321.6 275.2,321.5 276.2,321.4 277.2,321.3 278.2,321.2 279.2,321.1 280.2,321.0 281.2,320.9 282.2,320.8 283.2,320.7 284.2,320.6 285.2,320.5 286.2,320.4 287.2,320.3 288.2,320.2 289.2,320.1 290.2,320.0 291.2,319.9 292.2,319.8 293.2,319.7 294.2,319.6 295.2,319.5 296.2,319.4 297.2,319.3 298.2,319.2 299.2,319.1 300.2,319.0 301.2,318.9 302.2,318.8 303.2,318.7 304.2,318.6 305.2,318.5 306.2,318.4 307.2,318.3 308.2,318.2 309.2,318.1 310.2,318.0 311.2,317.9 312.2,317.8 313.2,317.7 314.2,317.6 315.2,317.5 316.2,317.4 317.2,317.3 318.2,317.2 319.1,317.1 320.1,317.0 321.1,316.9 322.1,316.8 323.1,316.7 324.1,316.6 325.1,316.5 326.1,316.4 327.1,316.3 328.1,316.2 329.1,316.1 330.1,316.0 331.1,315.9 332.1,315.8 333.1,315.7 334.1,315.6 335.1,315.5 336.1,315.4 337.1,315.3 338.1,315.2 339.1,315.1 340.1,315.0 341.1,314.9 342.1,314.8 343.1,314.7 344.1,314.6 345.1,314.5 346.1,314.4 347.1,314.3 348.1,314.2 349.1,314.1 350.1,314.0 351.1,313.9 352.1,313.8 353.1,313.7 354.1,313.6 355.1,313.5 356.1,313.4 357.1,313.3 358.1,313.2 359.1,313.1 360.1,313.0 361.1,312.9 362.1,312.8 363.1,312.7 364.1,312.6 365.1,312.5 366.1,312.4 367.1,312.3 368.1,312.2 369.1,312.1 370.1,312.0 371.1,311.9 372.1,311.8 373.1,311.7 374.1,311.6 375.1,311.5 376.1,311.4 377.1,311.3 378.1,311.2 379.1,311.1 380.1,311.0 381.1,310.9 382.1,310.8 383.1,310.7 384.1,310.6 385.1,310.5 386.1,310.4 387.1,310.5 786.5,310.5"/>
<ellipse cx="70.4" cy="339.8" rx="2.8" ry="2.5" fill="#f01010"/>
<line x1="387.5" y1="15" x2="387.5" y2="359" stroke="#9a1a3a" stroke-width="1" stroke-dasharray="3,3" shape-rendering="crispEdges"/>
<g shape-rendering="crispEdges"><rect x="66" y="15" width="1" height="345" fill="#000"/><rect x="66" y="359" width="721" height="1" fill="#000"/><rect x="67" y="360" width="1" height="9" fill="#000"/><rect x="75" y="360" width="1" height="5" fill="#000"/><rect x="83" y="360" width="1" height="5" fill="#000"/><rect x="91" y="360" width="1" height="5" fill="#000"/><rect x="99" y="360" width="1" height="5" fill="#000"/><rect x="107" y="360" width="1" height="9" fill="#000"/><rect x="115" y="360" width="1" height="5" fill="#000"/><rect x="123" y="360" width="1" height="5" fill="#000"/><rect x="131" y="360" width="1" height="5" fill="#000"/><rect x="139" y="360" width="1" height="5" fill="#000"/><rect x="147" y="360" width="1" height="9" fill="#000"/><rect x="155" y="360" width="1" height="5" fill="#000"/><rect x="163" y="360" width="1" height="5" fill="#000"/><rect x="171" y="360" width="1" height="5" fill="#000"/><rect x="179" y="360" width="1" height="5" fill="#000"/><rect x="187" y="360" width="1" height="9" fill="#000"/><rect x="195" y="360" width="1" height="5" fill="#000"/><rect x="203" y="360" width="1" height="5" fill="#000"/><rect x="211" y="360" width="1" height="5" fill="#000"/><rect x="219" y="360" width="1" height="5" fill="#000"/><rect x="227" y="360" width="1" height="9" fill="#000"/><rect x="235" y="360" width="1" height="5" fill="#000"/><rect x="243" y="360" width="1" height="5" fill="#000"/><rect x="251" y="360" width="1" height="5" fill="#000"/><rect x="259" y="360" width="1" height="5" fill="#000"/><rect x="267" y="360" width="1" height="9" fill="#000"/><rect x="275" y="360" width="1" height="5" fill="#000"/><rect x="283" y="360" width="1" height="5" fill="#000"/><rect x="291" y="360" width="1" height="5" fill="#000"/><rect x="299" y="360" width="1" height="5" fill="#000"/><rect x="307" y="360" width="1" height="9" fill="#000"/><rect x="315" y="360" width="1" height="5" fill="#000"/><rect x="323" y="360" width="1" height="5" fill="#000"/><rect x="331" y="360" width="1" height="5" fill="#000"/><rect x="339" y="360" width="1" height="5" fill="#000"/><rect x="347" y="360" width="1" height="9" fill="#000"/><rect x="355" y="360" width="1" height="5" fill="#000"/><rect x="363" y="360" width="1" height="5" fill="#000"/><rect x="371" y="360" width="1" height="5" fill="#000"/><rect x="379" y="360" width="1" height="5" fill="#000"/><rect x="387" y="360" width="1" height="9" fill="#000"/><rect x="395" y="360" width="1" height="5" fill="#000"/><rect x="403" y="360" width="1" height="5" fill="#000"/><rect x="411" y="360" width="1" height="5" fill="#000"/><rect x="419" y="360" width="1" height="5" fill="#000"/><rect x="427" y="360" width="1" height="9" fill="#000"/><rect x="434" y="360" width="1" height="5" fill="#000"/><rect x="442" y="360" width="1" height="5" fill="#000"/><rect x="450" y="360" width="1" height="5" fill="#000"/><rect x="458" y="360" width="1" height="5" fill="#000"/><rect x="466" y="360" width="1" height="9" fill="#000"/><rect x="474" y="360" width="1" height="5" fill="#000"/><rect x="482" y="360" width="1" height="5" fill="#000"/><rect x="490" y="360" width="1" height="5" fill="#000"/><rect x="498" y="360" width="1" height="5" fill="#000"/><rect x="506" y="360" width="1" height="9" fill="#000"/><rect x="514" y="360" width="1" height="5" fill="#000"/><rect x="522" y="360" width="1" height="5" fill="#000"/><rect x="530" y="360" width="1" height="5" fill="#000"/><rect x="538" y="360" width="1" height="5" fill="#000"/><rect x="546" y="360" width="1" height="9" fill="#000"/><rect x="554" y="360" width="1" height="5" fill="#000"/><rect x="562" y="360" width="1" height="5" fill="#000"/><rect x="570" y="360" width="1" height="5" fill="#000"/><rect x="578" y="360" width="1" height="5" fill="#000"/><rect x="586" y="360" width="1" height="9" fill="#000"/><rect x="594" y="360" width="1" height="5" fill="#000"/><rect x="602" y="360" width="1" height="5" fill="#000"/><rect x="610" y="360" width="1" height="5" fill="#000"/><rect x="618" y="360" width="1" height="5" fill="#000"/><rect x="626" y="360" width="1" height="9" fill="#000"/><rect x="634" y="360" width="1" height="5" fill="#000"/><rect x="642" y="360" width="1" height="5" fill="#000"/><rect x="650" y="360" width="1" height="5" fill="#000"/><rect x="658" y="360" width="1" height="5" fill="#000"/><rect x="666" y="360" width="1" height="9" fill="#000"/><rect x="674" y="360" width="1" height="5" fill="#000"/><rect x="682" y="360" width="1" height="5" fill="#000"/><rect x="690" y="360" width="1" height="5" fill="#000"/><rect x="698" y="360" width="1" height="5" fill="#000"/><rect x="706" y="360" width="1" height="9" fill="#000"/><rect x="714" y="360" width="1" height="5" fill="#000"/><rect x="722" y="360" width="1" height="5" fill="#000"/><rect x="730" y="360" width="1" height="5" fill="#000"/><rect x="738" y="360" width="1" height="5" fill="#000"/><rect x="746" y="360" width="1" height="9" fill="#000"/><rect x="754" y="360" width="1" height="5" fill="#000"/><rect x="762" y="360" width="1" height="5" fill="#000"/><rect x="770" y="360" width="1" height="5" fill="#000"/><rect x="778" y="360" width="1" height="5" fill="#000"/><rect x="786" y="360" width="1" height="9" fill="#000"/><rect x="57" y="342" width="9" height="1" fill="#000"/><rect x="61" y="318" width="5" height="1" fill="#000"/><rect x="61" y="295" width="5" height="1" fill="#000"/><rect x="61" y="271" width="5" height="1" fill="#000"/><rect x="57" y="247" width="9" height="1" fill="#000"/><rect x="61" y="223" width="5" height="1" fill="#000"/><rect x="61" y="200" width="5" height="1" fill="#000"/><rect x="61" y="176" width="5" height="1" fill="#000"/><rect x="57" y="152" width="9" height="1" fill="#000"/><rect x="61" y="128" width="5" height="1" fill="#000"/><rect x="61" y="105" width="5" height="1" fill="#000"/><rect x="61" y="81" width="5" height="1" fill="#000"/><rect x="57" y="57" width="9" height="1" fill="#000"/><rect x="61" y="33" width="5" height="1" fill="#000"/></g>
<text x="67.05" y="380" text-anchor="middle" textLength="5.60" lengthAdjust="spacingAndGlyphs" font-family="Liberation Sans, Arial, sans-serif" font-size="11" fill="#000" stroke="#000" stroke-width="0.15">0</text><text x="107.05" y="380" text-anchor="middle" textLength="11.20" lengthAdjust="spacingAndGlyphs" font-family="Liberation Sans, Arial, sans-serif" font-size="11" fill="#000" stroke="#000" stroke-width="0.15">50</text><text x="147.05" y="380" text-anchor="middle" textLength="16.80" lengthAdjust="spacingAndGlyphs" font-family="Liberation Sans, Arial, sans-serif" font-size="11" fill="#000" stroke="#000" stroke-width="0.15">100</text><text x="187.05" y="380" text-anchor="middle" textLength="16.80" lengthAdjust="spacingAndGlyphs" font-family="Liberation Sans, Arial, sans-serif" font-size="11" fill="#000" stroke="#000" stroke-width="0.15">150</text><text x="227.05" y="380" text-anchor="middle" textLength="16.80" lengthAdjust="spacingAndGlyphs" font-family="Liberation Sans, Arial, sans-serif" font-size="11" fill="#000" stroke="#000" stroke-width="0.15">200</text><text x="267.05" y="380" text-anchor="middle" textLength="16.80" lengthAdjust="spacingAndGlyphs" font-family="Liberation Sans, Arial, sans-serif" font-size="11" fill="#000" stroke="#000" stroke-width="0.15">250</text><text x="307.05" y="380" text-anchor="middle" textLength="16.80" lengthAdjust="spacingAndGlyphs" font-family="Liberation Sans, Arial, sans-serif" font-size="11" fill="#000" stroke="#000" stroke-width="0.15">300</text><text x="347.05" y="380" text-anchor="middle" textLength="16.80" lengthAdjust="spacingAndGlyphs" font-family="Liberation Sans, Arial, sans-serif" font-size="11" fill="#000" stroke="#000" stroke-width="0.15">350</text><text x="387.05" y="380" text-anchor="middle" textLength="16.80" lengthAdjust="spacingAndGlyphs" font-family="Liberation Sans, Arial, sans-serif" font-size="11" fill="#000" stroke="#000" stroke-width="0.15">400</text><text x="427.05" y="380" text-anchor="middle" textLength="16.80" lengthAdjust="spacingAndGlyphs" font-family="Liberation Sans, Arial, sans-serif" font-size="11" fill="#000" stroke="#000" stroke-width="0.15">450</text><text x="466.05" y="380" text-anchor="middle" textLength="16.80" lengthAdjust="spacingAndGlyphs" font-family="Liberation Sans, Arial, sans-serif" font-size="11" fill="#000" stroke="#000" stroke-width="0.15">500</text><text x="506.05" y="380" text-anchor="middle" textLength="16.80" lengthAdjust="spacingAndGlyphs" font-family="Liberation Sans, Arial, sans-serif" font-size="11" fill="#000" stroke="#000" stroke-width="0.15">550</text><text x="546.05" y="380" text-anchor="middle" textLength="16.80" lengthAdjust="spacingAndGlyphs" font-family="Liberation Sans, Arial, sans-serif" font-size="11" fill="#000" stroke="#000" stroke-width="0.15">600</text><text x="586.05" y="380" text-anchor="middle" textLength="16.80" lengthAdjust="spacingAndGlyphs" font-family="Liberation Sans, Arial, sans-serif" font-size="11" fill="#000" stroke="#000" stroke-width="0.15">650</text><text x="626.05" y="380" text-anchor="middle" textLength="16.80" lengthAdjust="spacingAndGlyphs" font-family="Liberation Sans, Arial, sans-serif" font-size="11" fill="#000" stroke="#000" stroke-width="0.15">700</text><text x="666.05" y="380" text-anchor="middle" textLength="16.80" lengthAdjust="spacingAndGlyphs" font-family="Liberation Sans, Arial, sans-serif" font-size="11" fill="#000" stroke="#000" stroke-width="0.15">750</text><text x="706.05" y="380" text-anchor="middle" textLength="16.80" lengthAdjust="spacingAndGlyphs" font-family="Liberation Sans, Arial, sans-serif" font-size="11" fill="#000" stroke="#000" stroke-width="0.15">800</text><text x="746.05" y="380" text-anchor="middle" textLength="16.80" lengthAdjust="spacingAndGlyphs" font-family="Liberation Sans, Arial, sans-serif" font-size="11" fill="#000" stroke="#000" stroke-width="0.15">850</text><text x="786.05" y="380" text-anchor="middle" textLength="16.80" lengthAdjust="spacingAndGlyphs" font-family="Liberation Sans, Arial, sans-serif" font-size="11" fill="#000" stroke="#000" stroke-width="0.15">900</text><text x="55.9" y="346.0" text-anchor="end" textLength="5.6" lengthAdjust="spacingAndGlyphs" font-family="Liberation Sans, Arial, sans-serif" font-size="11" fill="#000" stroke="#000" stroke-width="0.15">0</text><text x="55.9" y="251.0" text-anchor="end" textLength="14.3" lengthAdjust="spacingAndGlyphs" font-family="Liberation Sans, Arial, sans-serif" font-size="11" fill="#000" stroke="#000" stroke-width="0.15">0.2</text><text x="55.9" y="156.0" text-anchor="end" textLength="14.3" lengthAdjust="spacingAndGlyphs" font-family="Liberation Sans, Arial, sans-serif" font-size="11" fill="#000" stroke="#000" stroke-width="0.15">0.4</text><text x="55.9" y="61.0" text-anchor="end" textLength="14.3" lengthAdjust="spacingAndGlyphs" font-family="Liberation Sans, Arial, sans-serif" font-size="11" fill="#000" stroke="#000" stroke-width="0.15">0.6</text><text x="426" y="397" text-anchor="middle" font-family="Liberation Sans, Arial, sans-serif" font-size="11" fill="#000" stroke="#000" stroke-width="0.15">Time (s)</text><text transform="translate(10.9,187.5) rotate(-90)" text-anchor="middle" textLength="13.2" lengthAdjust="spacingAndGlyphs" font-family="Liberation Sans, Arial, sans-serif" font-size="11" fill="#000" stroke="#000" stroke-width="0.15">nm</text>
</svg>
</body></html>
